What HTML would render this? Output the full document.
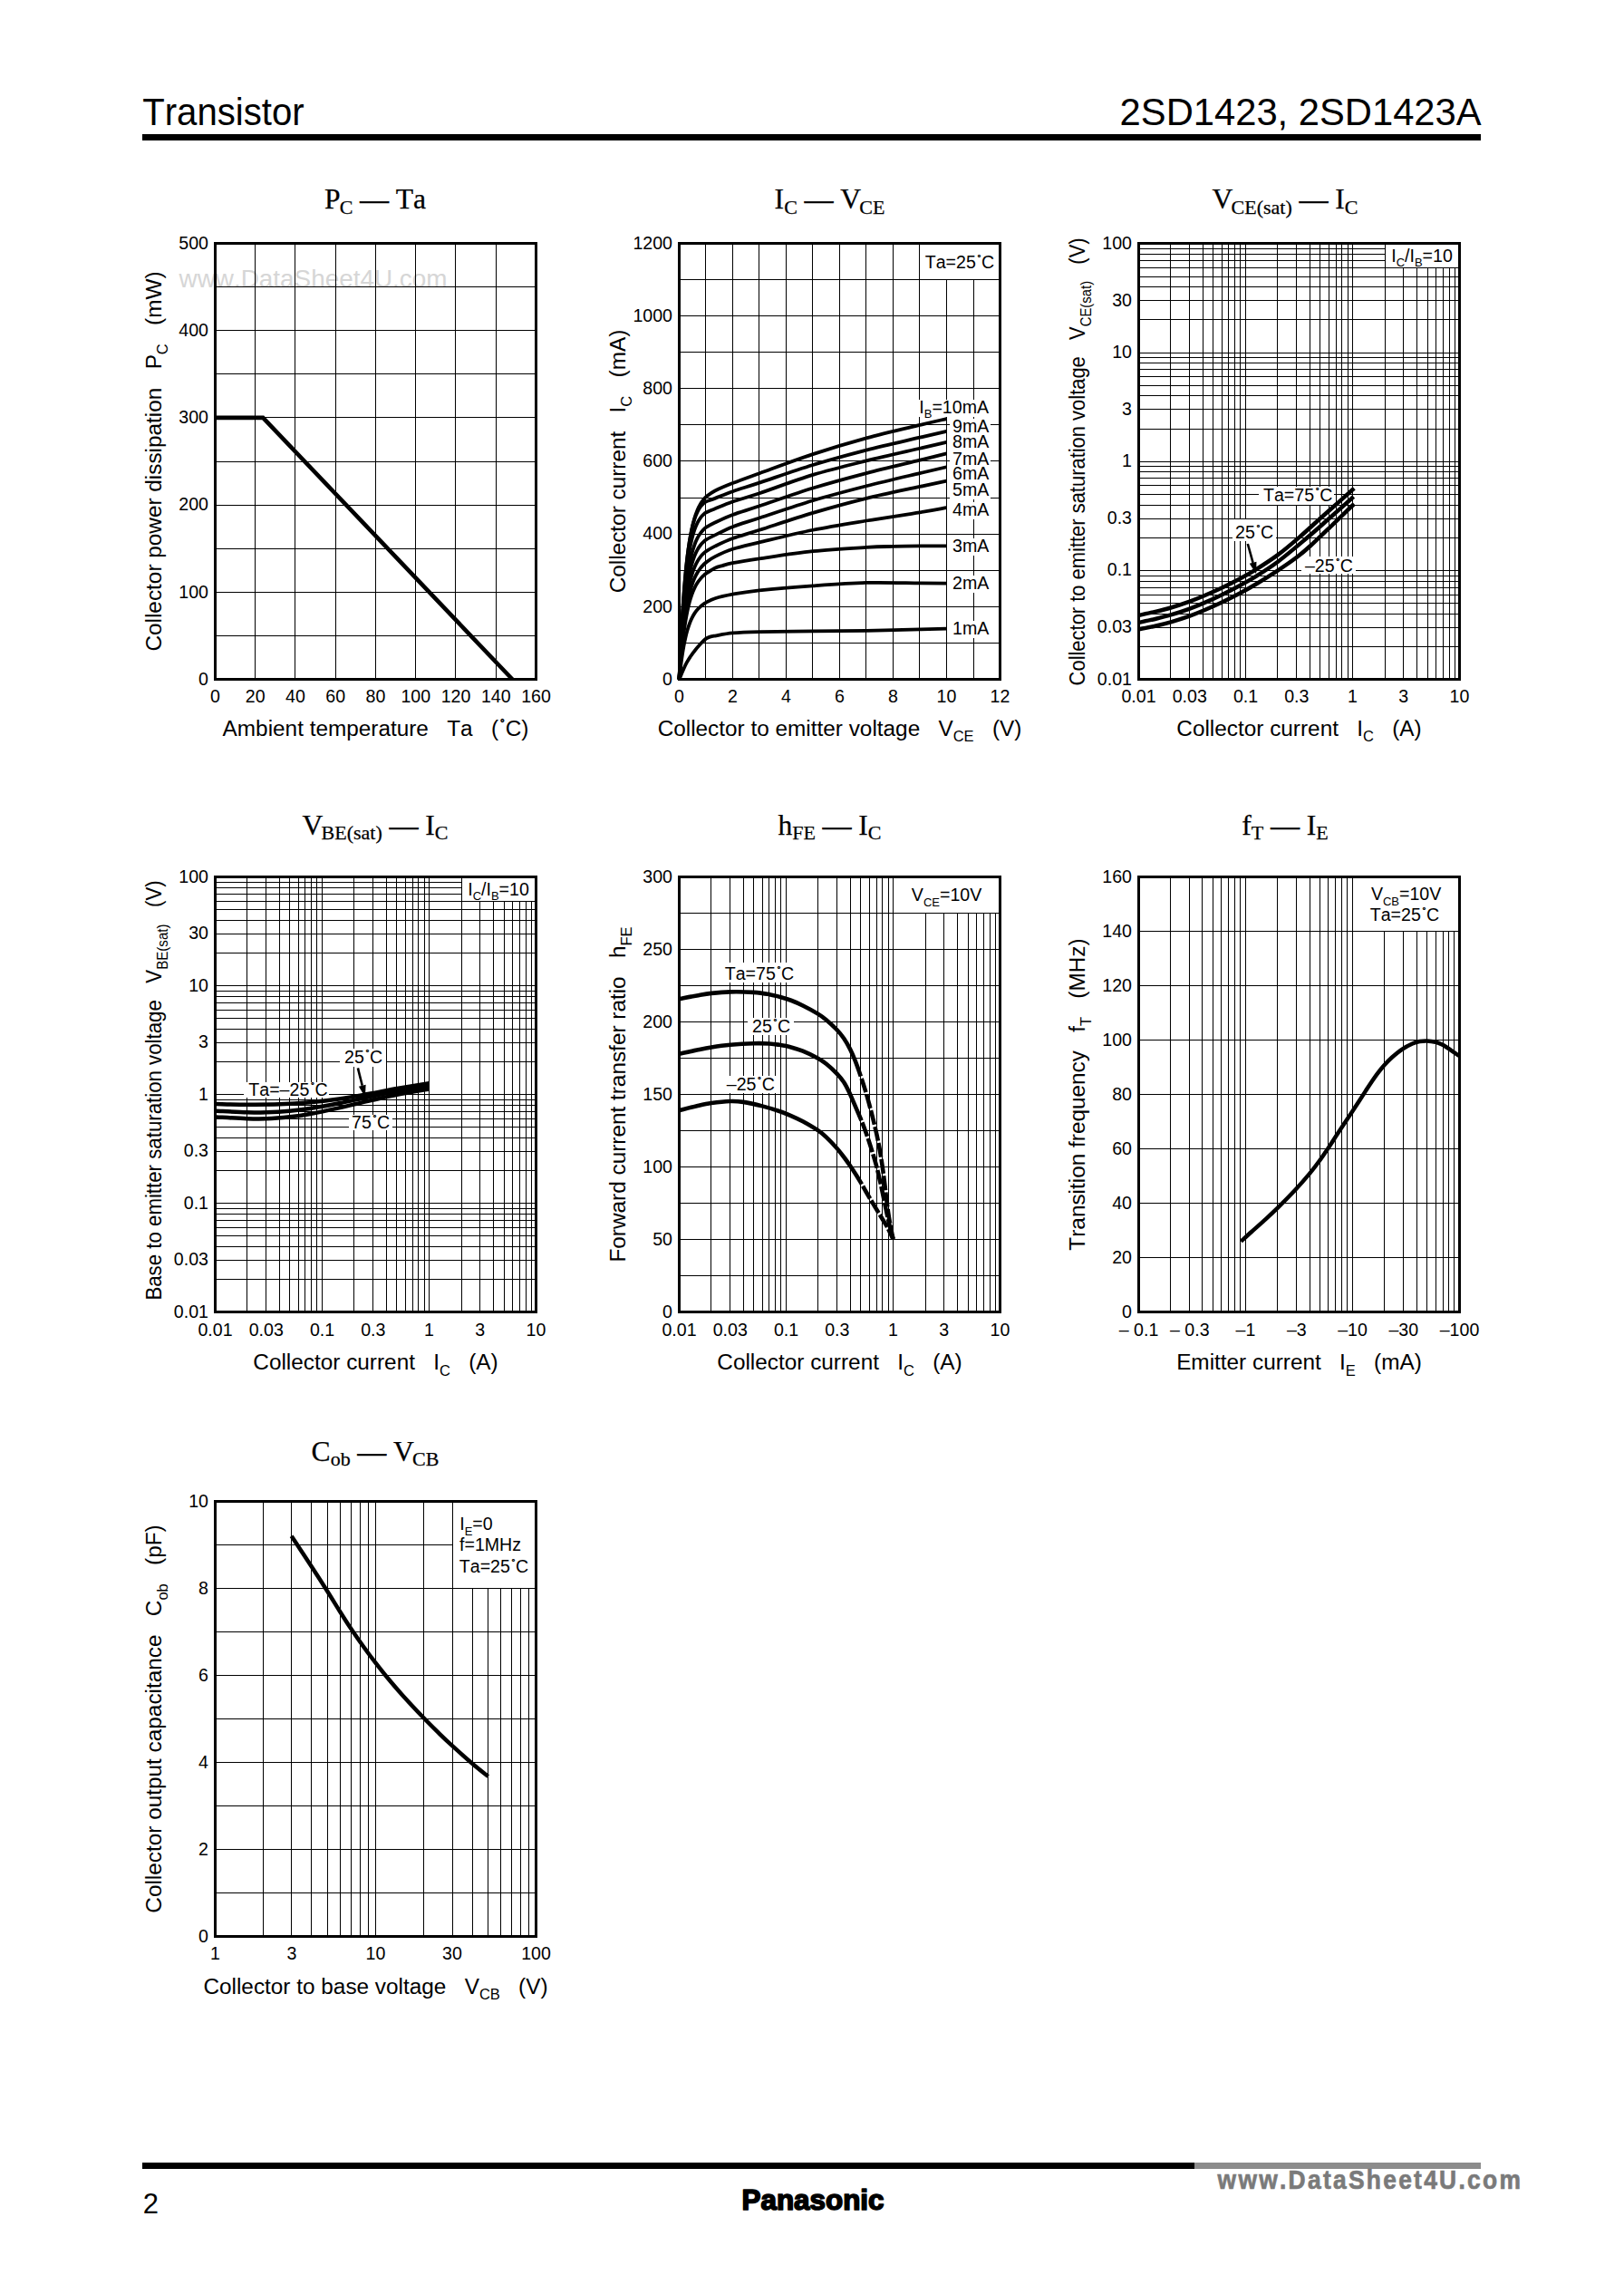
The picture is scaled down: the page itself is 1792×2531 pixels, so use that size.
<!DOCTYPE html>
<html lang="en"><head><meta charset="utf-8"><title>2SD1423, 2SD1423A</title>
<style>html,body{margin:0;padding:0;background:#fff}body{width:1792px;height:2531px;overflow:hidden}svg text{white-space:pre;font-kerning:none}</style>
</head><body>
<svg width="1792" height="2531" viewBox="0 0 1792 2531" style="display:block">
<rect width="1792" height="2531" fill="#fff"/>
<text x="157.2" y="138.4" font-size="41.7" text-anchor="start" font-family='"Liberation Sans", Arial, Helvetica, sans-serif' fill="#000" textLength="178.5" lengthAdjust="spacingAndGlyphs">Transistor</text>
<text x="1634.6" y="138.4" font-size="41.7" text-anchor="end" font-family='"Liberation Sans", Arial, Helvetica, sans-serif' fill="#000" textLength="399" lengthAdjust="spacingAndGlyphs">2SD1423, 2SD1423A</text>
<rect x="157" y="148.2" width="1477" height="6.6" fill="#000" shape-rendering="crispEdges"/>
<rect x="157" y="2385.8" width="1161" height="7.2" fill="#000" shape-rendering="crispEdges"/>
<rect x="1318" y="2385.8" width="316" height="7.2" fill="#8c8c8c" shape-rendering="crispEdges"/>
<text x="157.8" y="2441.8" font-size="31" text-anchor="start" font-family='"Liberation Sans", Arial, Helvetica, sans-serif' fill="#000">2</text>
<text x="897" y="2438.3" font-size="32" text-anchor="middle" font-family='"Liberation Sans", Arial, Helvetica, sans-serif' fill="#000" font-weight="bold" stroke="#000" stroke-width="1.7" stroke-linejoin="round" textLength="157" lengthAdjust="spacingAndGlyphs">Panasonic</text>
<g transform="translate(1343.6 2414.5) scale(0.9 1)">
<text x="0" y="0" font-size="29.3" text-anchor="start" font-family='"Liberation Sans", Arial, Helvetica, sans-serif' fill="#7a7a7a" font-weight="bold" letter-spacing="2.55" stroke="#7a7a7a" stroke-width="0.7">www.DataSheet4U.com</text>
</g>
<text x="197.5" y="316.6" font-size="27.5" text-anchor="start" font-family='"Liberation Sans", Arial, Helvetica, sans-serif' fill="#d6d6d6" textLength="296" lengthAdjust="spacingAndGlyphs">www.DataSheet4U.com</text>
<g shape-rendering="crispEdges">
<line x1="281.5" y1="268.5" x2="281.5" y2="749.5" stroke="#000" stroke-width="1"/>
<line x1="325.5" y1="268.5" x2="325.5" y2="749.5" stroke="#000" stroke-width="1"/>
<line x1="370.5" y1="268.5" x2="370.5" y2="749.5" stroke="#000" stroke-width="1"/>
<line x1="414.5" y1="268.5" x2="414.5" y2="749.5" stroke="#000" stroke-width="1"/>
<line x1="458.5" y1="268.5" x2="458.5" y2="749.5" stroke="#000" stroke-width="1"/>
<line x1="502.5" y1="268.5" x2="502.5" y2="749.5" stroke="#000" stroke-width="1"/>
<line x1="547.5" y1="268.5" x2="547.5" y2="749.5" stroke="#000" stroke-width="1"/>
<line x1="237.5" y1="701.5" x2="591.5" y2="701.5" stroke="#000" stroke-width="1"/>
<line x1="237.5" y1="653.5" x2="591.5" y2="653.5" stroke="#000" stroke-width="1"/>
<line x1="237.5" y1="605.5" x2="591.5" y2="605.5" stroke="#000" stroke-width="1"/>
<line x1="237.5" y1="557.5" x2="591.5" y2="557.5" stroke="#000" stroke-width="1"/>
<line x1="237.5" y1="509.5" x2="591.5" y2="509.5" stroke="#000" stroke-width="1"/>
<line x1="237.5" y1="460.5" x2="591.5" y2="460.5" stroke="#000" stroke-width="1"/>
<line x1="237.5" y1="412.5" x2="591.5" y2="412.5" stroke="#000" stroke-width="1"/>
<line x1="237.5" y1="364.5" x2="591.5" y2="364.5" stroke="#000" stroke-width="1"/>
<line x1="237.5" y1="316.5" x2="591.5" y2="316.5" stroke="#000" stroke-width="1"/>
<rect x="237.5" y="268.5" width="354" height="481" fill="none" stroke="#000" stroke-width="3"/>
</g>
<path d="M237.5 460.9L290.21 460.9L565.39 749.5" fill="none" stroke="#000" stroke-width="4.6" stroke-linejoin="miter"/>
<text x="237.5" y="774.5" font-size="19.6" text-anchor="middle" font-family='"Liberation Sans", Arial, Helvetica, sans-serif' fill="#000">0</text>
<text x="281.75" y="774.5" font-size="19.6" text-anchor="middle" font-family='"Liberation Sans", Arial, Helvetica, sans-serif' fill="#000">20</text>
<text x="326" y="774.5" font-size="19.6" text-anchor="middle" font-family='"Liberation Sans", Arial, Helvetica, sans-serif' fill="#000">40</text>
<text x="370.25" y="774.5" font-size="19.6" text-anchor="middle" font-family='"Liberation Sans", Arial, Helvetica, sans-serif' fill="#000">60</text>
<text x="414.5" y="774.5" font-size="19.6" text-anchor="middle" font-family='"Liberation Sans", Arial, Helvetica, sans-serif' fill="#000">80</text>
<text x="458.75" y="774.5" font-size="19.6" text-anchor="middle" font-family='"Liberation Sans", Arial, Helvetica, sans-serif' fill="#000">100</text>
<text x="503" y="774.5" font-size="19.6" text-anchor="middle" font-family='"Liberation Sans", Arial, Helvetica, sans-serif' fill="#000">120</text>
<text x="547.25" y="774.5" font-size="19.6" text-anchor="middle" font-family='"Liberation Sans", Arial, Helvetica, sans-serif' fill="#000">140</text>
<text x="591.5" y="774.5" font-size="19.6" text-anchor="middle" font-family='"Liberation Sans", Arial, Helvetica, sans-serif' fill="#000">160</text>
<text x="230" y="755.7" font-size="19.6" text-anchor="end" font-family='"Liberation Sans", Arial, Helvetica, sans-serif' fill="#000">0</text>
<text x="230" y="659.5" font-size="19.6" text-anchor="end" font-family='"Liberation Sans", Arial, Helvetica, sans-serif' fill="#000">100</text>
<text x="230" y="563.3" font-size="19.6" text-anchor="end" font-family='"Liberation Sans", Arial, Helvetica, sans-serif' fill="#000">200</text>
<text x="230" y="467.1" font-size="19.6" text-anchor="end" font-family='"Liberation Sans", Arial, Helvetica, sans-serif' fill="#000">300</text>
<text x="230" y="370.9" font-size="19.6" text-anchor="end" font-family='"Liberation Sans", Arial, Helvetica, sans-serif' fill="#000">400</text>
<text x="230" y="274.7" font-size="19.6" text-anchor="end" font-family='"Liberation Sans", Arial, Helvetica, sans-serif' fill="#000">500</text>
<text x="414" y="230" font-size="31.6" text-anchor="middle" font-family='"Liberation Serif", "Times New Roman", Times, serif' fill="#000" stroke="#000" stroke-width="0.25">P<tspan font-size="22" dy="5.8" dx="-0.9">C</tspan><tspan dy="-5.8"> </tspan><tspan stroke="#000" stroke-width="0.7" dy="1.1">—</tspan><tspan dy="-1.1"> Ta</tspan></text>
<text x="414.5" y="811.7" font-size="24.35" text-anchor="middle" font-family='"Liberation Sans", Arial, Helvetica, sans-serif' fill="#000">Ambient temperature   Ta   (<tspan font-size="14.61" stroke="#000" stroke-width="0.54" dy="-6.94" dx="2.31">˚</tspan><tspan dy="6.94" dx="0.49">C)</tspan></text>
<text x="0" y="0" font-size="24.35" text-anchor="middle" font-family='"Liberation Sans", Arial, Helvetica, sans-serif' fill="#000" transform="translate(178.1 509) rotate(-90)">Collector power dissipation   P<tspan font-size="16.5" dy="6.5">C</tspan><tspan dy="-6.5">   (mW)</tspan></text>
<g shape-rendering="crispEdges">
<line x1="778.5" y1="268.5" x2="778.5" y2="749.5" stroke="#000" stroke-width="1"/>
<line x1="808.5" y1="268.5" x2="808.5" y2="749.5" stroke="#000" stroke-width="1"/>
<line x1="837.5" y1="268.5" x2="837.5" y2="749.5" stroke="#000" stroke-width="1"/>
<line x1="867.5" y1="268.5" x2="867.5" y2="749.5" stroke="#000" stroke-width="1"/>
<line x1="896.5" y1="268.5" x2="896.5" y2="749.5" stroke="#000" stroke-width="1"/>
<line x1="926.5" y1="268.5" x2="926.5" y2="749.5" stroke="#000" stroke-width="1"/>
<line x1="955.5" y1="268.5" x2="955.5" y2="749.5" stroke="#000" stroke-width="1"/>
<line x1="985.5" y1="268.5" x2="985.5" y2="749.5" stroke="#000" stroke-width="1"/>
<line x1="1014.5" y1="268.5" x2="1014.5" y2="749.5" stroke="#000" stroke-width="1"/>
<line x1="1044.5" y1="268.5" x2="1044.5" y2="749.5" stroke="#000" stroke-width="1"/>
<line x1="1074.5" y1="268.5" x2="1074.5" y2="749.5" stroke="#000" stroke-width="1"/>
<line x1="749.5" y1="709.5" x2="1103.5" y2="709.5" stroke="#000" stroke-width="1"/>
<line x1="749.5" y1="669.5" x2="1103.5" y2="669.5" stroke="#000" stroke-width="1"/>
<line x1="749.5" y1="629.5" x2="1103.5" y2="629.5" stroke="#000" stroke-width="1"/>
<line x1="749.5" y1="589.5" x2="1103.5" y2="589.5" stroke="#000" stroke-width="1"/>
<line x1="749.5" y1="549.5" x2="1103.5" y2="549.5" stroke="#000" stroke-width="1"/>
<line x1="749.5" y1="508.5" x2="1103.5" y2="508.5" stroke="#000" stroke-width="1"/>
<line x1="749.5" y1="468.5" x2="1103.5" y2="468.5" stroke="#000" stroke-width="1"/>
<line x1="749.5" y1="428.5" x2="1103.5" y2="428.5" stroke="#000" stroke-width="1"/>
<line x1="749.5" y1="388.5" x2="1103.5" y2="388.5" stroke="#000" stroke-width="1"/>
<line x1="749.5" y1="348.5" x2="1103.5" y2="348.5" stroke="#000" stroke-width="1"/>
<line x1="749.5" y1="308.5" x2="1103.5" y2="308.5" stroke="#000" stroke-width="1"/>
<rect x="1015.5" y="270" width="86.5" height="37.8" fill="#fff"/>
<rect x="1012.5" y="440.5" width="80.3" height="19" fill="#fff"/>
<rect x="1048" y="461.5" width="44.5" height="19" fill="#fff"/>
<rect x="1048" y="479" width="44.5" height="19" fill="#fff"/>
<rect x="1048" y="497.5" width="44.5" height="19" fill="#fff"/>
<rect x="1048" y="514.4" width="44.5" height="19" fill="#fff"/>
<rect x="1048" y="532.3" width="44.5" height="19" fill="#fff"/>
<rect x="1048" y="554.4" width="44.5" height="19" fill="#fff"/>
<rect x="1048" y="593.5" width="44.5" height="19" fill="#fff"/>
<rect x="1048" y="635" width="44.5" height="19" fill="#fff"/>
<rect x="1048" y="685.3" width="44.5" height="19" fill="#fff"/>
<rect x="749.5" y="268.5" width="354" height="481" fill="none" stroke="#000" stroke-width="3"/>
</g>
<path d="M749.5 749.5C750.84 746.47 754.81 736.46 757.55 731.34C760.29 726.22 763.34 722.32 765.93 718.8C768.52 715.28 770.92 712.58 773.1 710.22C775.28 707.86 777.28 705.9 779 704.65C780.72 703.39 781.77 703.2 783.42 702.68C785.08 702.16 784.76 702.24 788.94 701.52C793.12 700.81 800.32 699.13 808.5 698.39C816.68 697.66 823.25 697.45 838 697.11C852.75 696.78 877.33 696.61 897 696.39C916.67 696.17 936.33 696.12 956 695.79C975.67 695.45 1000.25 694.75 1015 694.39C1029.75 694.02 1039.58 693.72 1044.5 693.58" fill="none" stroke="#000" stroke-width="3.8" stroke-linecap="butt" stroke-linejoin="round"/>
<path d="M749.5 749.5C749.7 747.72 750.29 742.16 750.68 738.83C751.07 735.5 751.47 732.43 751.86 729.53C752.25 726.62 752.6 724.22 753.04 721.41C753.48 718.61 753.97 715.6 754.51 712.7C755.06 709.8 755.65 706.82 756.28 704.01C756.92 701.2 757.61 698.42 758.35 695.83C759.09 693.25 759.87 690.78 760.71 688.5C761.55 686.23 762.43 684.12 763.37 682.19C764.3 680.25 765.28 678.51 766.32 676.91C767.35 675.31 768.43 673.9 769.56 672.6C770.69 671.29 772.02 670.05 773.1 669.09C774.18 668.12 775.07 667.5 776.05 666.81C777.03 666.11 776.85 666.03 779 664.92C781.15 663.82 784.02 661.73 788.94 660.19C793.86 658.66 800.32 657.19 808.5 655.71C816.68 654.22 823.25 652.87 838 651.3C852.75 649.73 877.33 647.67 897 646.29C916.67 644.9 936.33 643.45 956 642.96C975.67 642.47 1000.25 643.25 1015 643.36C1029.75 643.47 1039.58 643.56 1044.5 643.6" fill="none" stroke="#000" stroke-width="3.8" stroke-linecap="butt" stroke-linejoin="round"/>
<path d="M749.5 749.5C749.7 747.02 750.29 739.26 750.68 734.63C751.07 729.99 751.47 725.72 751.86 721.68C752.25 717.64 752.6 714.29 753.04 710.39C753.48 706.5 753.97 702.32 754.51 698.3C755.06 694.28 755.65 690.15 756.28 686.25C756.92 682.36 757.61 678.51 758.35 674.94C759.09 671.37 759.87 667.96 760.71 664.83C761.55 661.7 762.43 658.8 763.37 656.15C764.3 653.51 765.28 651.13 766.32 648.95C767.35 646.77 768.43 644.86 769.56 643.09C770.69 641.33 772.02 639.67 773.1 638.38C774.18 637.08 775.07 636.26 776.05 635.34C777.03 634.42 776.85 634.29 779 632.86C781.15 631.42 785.89 628.19 788.94 626.72C791.99 625.26 794.03 624.99 797.29 624.08C800.55 623.16 801.72 622.51 808.5 621.23C815.28 619.96 823.25 618.59 838 616.42C852.75 614.25 877.33 610.29 897 608.21C916.67 606.12 941.25 604.81 956 603.92C970.75 603.03 975.67 603.12 985.5 602.88C995.33 602.63 1005.17 602.54 1015 602.47C1024.83 602.41 1039.58 602.47 1044.5 602.47" fill="none" stroke="#000" stroke-width="3.8" stroke-linecap="butt" stroke-linejoin="round"/>
<path d="M749.5 749.5C749.7 746.74 750.29 738.11 750.68 732.96C751.07 727.8 751.47 723.05 751.86 718.56C752.25 714.07 752.6 710.36 753.04 706.03C753.48 701.7 753.97 697.07 754.51 692.61C755.06 688.14 755.65 683.56 756.28 679.25C756.92 674.94 757.61 670.68 758.35 666.73C759.09 662.78 759.87 659.01 760.71 655.56C761.55 652.1 762.43 648.91 763.37 646C764.3 643.09 765.28 640.48 766.32 638.09C767.35 635.71 768.43 633.61 769.56 631.69C770.69 629.77 772.02 627.97 773.1 626.57C774.18 625.17 775.07 624.28 776.05 623.29C777.03 622.3 776.85 622.16 779 620.63C781.15 619.11 784.02 616.61 788.94 614.14C793.86 611.67 800.32 608.43 808.5 605.8C816.68 603.18 823.25 601.89 838 598.39C852.75 594.88 877.33 588.74 897 584.76C916.67 580.78 936.33 577.73 956 574.5C975.67 571.26 1000.25 567.75 1015 565.36C1029.75 562.97 1039.58 561.01 1044.5 560.15" fill="none" stroke="#000" stroke-width="3.8" stroke-linecap="butt" stroke-linejoin="round"/>
<path d="M749.5 749.5C749.7 746.39 750.29 736.66 750.68 730.86C751.07 725.06 751.47 719.72 751.86 714.68C752.25 709.65 752.6 705.48 753.04 700.64C753.48 695.81 753.97 690.63 754.51 685.66C755.06 680.69 755.65 675.6 756.28 670.82C756.92 666.04 757.61 661.34 758.35 657C759.09 652.66 759.87 648.53 760.71 644.77C761.55 641.01 762.43 637.56 763.37 634.44C764.3 631.31 765.28 628.53 766.32 626.01C767.35 623.5 768.43 621.32 769.56 619.34C770.69 617.36 772.02 615.55 773.1 614.15C774.18 612.75 775.07 611.89 776.05 610.94C777.03 609.98 776.85 609.79 779 608.41C781.15 607.02 784.02 605.04 788.94 602.63C793.86 600.23 800.32 596.96 808.5 593.98C816.68 591 823.25 589.43 838 584.76C852.75 580.08 877.33 571.73 897 565.92C916.67 560.11 936.33 554.72 956 549.88C975.67 545.05 1000.25 540.12 1015 536.9C1029.75 533.67 1039.58 531.59 1044.5 530.52" fill="none" stroke="#000" stroke-width="3.8" stroke-linecap="butt" stroke-linejoin="round"/>
<path d="M749.5 749.5C749.7 746.04 750.29 735.19 750.68 728.73C751.07 722.28 751.47 716.35 751.86 710.75C752.25 705.16 752.6 700.54 753.04 695.18C753.48 689.82 753.97 684.09 754.51 678.6C755.06 673.11 755.65 667.49 756.28 662.24C756.92 656.98 757.61 651.82 758.35 647.07C759.09 642.31 759.87 637.82 760.71 633.73C761.55 629.65 762.43 625.92 763.37 622.56C764.3 619.19 765.28 616.23 766.32 613.56C767.35 610.89 768.43 608.61 769.56 606.55C770.69 604.5 772.02 602.65 773.1 601.23C774.18 599.81 775.07 598.97 776.05 598.03C777.03 597.08 776.85 596.86 779 595.58C781.15 594.3 784.02 592.77 788.94 590.37C793.86 587.96 800.32 584.29 808.5 581.15C816.68 578.01 823.25 576.34 838 571.53C852.75 566.72 877.33 558.17 897 552.29C916.67 546.41 936.33 541.29 956 536.26C975.67 531.22 1000.25 525.57 1015 522.07C1029.75 518.57 1039.58 516.39 1044.5 515.25" fill="none" stroke="#000" stroke-width="3.8" stroke-linecap="butt" stroke-linejoin="round"/>
<path d="M749.5 749.5C749.7 745.72 750.29 733.86 750.68 726.81C751.07 719.75 751.47 713.27 751.86 707.17C752.25 701.06 752.6 696.01 753.04 690.16C753.48 684.31 753.97 678.05 754.51 672.06C755.06 666.07 755.65 659.95 756.28 654.22C756.92 648.49 757.61 642.86 758.35 637.69C759.09 632.51 759.87 627.62 760.71 623.17C761.55 618.73 762.43 614.68 763.37 611.03C764.3 607.38 765.28 604.16 766.32 601.27C767.35 598.39 768.43 595.92 769.56 593.7C770.69 591.49 772.02 589.5 773.1 587.98C774.18 586.45 775.07 585.55 776.05 584.55C777.03 583.55 776.85 583.29 779 581.95C781.15 580.61 784.02 578.84 788.94 576.5C793.86 574.16 800.32 570.96 808.5 567.92C816.68 564.89 823.25 563.21 838 558.3C852.75 553.4 877.33 544.54 897 538.5C916.67 532.46 936.33 527.2 956 522.07C975.67 516.94 1000.25 511.32 1015 507.72C1029.75 504.11 1039.58 501.64 1044.5 500.42" fill="none" stroke="#000" stroke-width="3.8" stroke-linecap="butt" stroke-linejoin="round"/>
<path d="M749.5 749.5C749.7 745.23 750.29 731.84 750.68 723.88C751.07 715.92 751.47 708.63 751.86 701.76C752.25 694.89 752.6 689.22 753.04 682.66C753.48 676.1 753.97 669.1 754.51 662.41C755.06 655.72 755.65 648.89 756.28 642.53C756.92 636.16 757.61 629.93 758.35 624.22C759.09 618.52 759.87 613.15 760.71 608.3C761.55 603.45 762.43 599.05 763.37 595.13C764.3 591.2 765.28 587.77 766.32 584.73C767.35 581.68 768.43 579.13 769.56 576.86C770.69 574.59 772.02 572.62 773.1 571.12C774.18 569.62 775.07 568.79 776.05 567.86C777.03 566.92 776.85 566.61 779 565.52C781.15 564.43 784.02 563.31 788.94 561.31C793.86 559.3 800.32 556.33 808.5 553.49C816.68 550.65 823.25 549.2 838 544.27C852.75 539.34 877.33 529.89 897 523.91C916.67 517.93 936.33 513.26 956 508.4C975.67 503.54 1000.25 498.14 1015 494.73C1029.75 491.32 1039.58 489.05 1044.5 487.92" fill="none" stroke="#000" stroke-width="3.8" stroke-linecap="butt" stroke-linejoin="round"/>
<path d="M749.5 749.5C749.7 744.89 750.29 730.44 750.68 721.86C751.07 713.28 751.47 705.42 751.86 698.02C752.25 690.62 752.6 684.52 753.04 677.47C753.48 670.41 753.97 662.88 754.51 655.7C755.06 648.52 755.65 641.19 756.28 634.38C756.92 627.56 757.61 620.9 758.35 614.81C759.09 608.72 759.87 602.99 760.71 597.84C761.55 592.69 762.43 588.04 763.37 583.89C764.3 579.75 765.28 576.15 766.32 572.97C767.35 569.79 768.43 567.14 769.56 564.8C770.69 562.47 772.02 560.48 773.1 558.97C774.18 557.46 775.07 556.65 776.05 555.73C777.03 554.82 776.85 554.47 779 553.49C781.15 552.52 784.02 551.76 788.94 549.88C793.86 548.01 800.32 545.14 808.5 542.27C816.68 539.4 823.25 537.53 838 532.65C852.75 527.77 877.33 519.02 897 513.01C916.67 507 936.33 501.63 956 496.57C975.67 491.52 1000.25 486.13 1015 482.67C1029.75 479.2 1039.58 476.95 1044.5 475.81" fill="none" stroke="#000" stroke-width="3.8" stroke-linecap="butt" stroke-linejoin="round"/>
<path d="M749.5 749.5C749.7 744.98 750.29 730.8 750.68 722.35C751.07 713.91 751.47 706.16 751.86 698.85C752.25 691.54 752.6 685.49 753.04 678.49C753.48 671.48 753.97 663.99 754.51 656.81C755.06 649.64 755.65 642.29 756.28 635.42C756.92 628.55 757.61 621.8 758.35 615.59C759.09 609.38 759.87 603.5 760.71 598.16C761.55 592.82 762.43 587.95 763.37 583.55C764.3 579.16 765.28 575.27 766.32 571.79C767.35 568.3 768.43 565.32 769.56 562.63C770.69 559.94 772.02 557.53 773.1 555.67C774.18 553.81 775.07 552.71 776.05 551.48C777.03 550.25 776.85 549.95 779 548.28C781.15 546.61 784.02 544.01 788.94 541.47C793.86 538.93 800.32 536.26 808.5 533.05C816.68 529.84 823.25 527.55 838 522.23C852.75 516.9 877.33 507.58 897 501.1C916.67 494.62 936.33 488.71 956 483.35C975.67 477.98 1000.25 472.46 1015 468.92C1029.75 465.38 1039.58 463.24 1044.5 462.1" fill="none" stroke="#000" stroke-width="3.8" stroke-linecap="butt" stroke-linejoin="round"/>
<text x="1014.3" y="455.5" font-size="19.6" text-anchor="start" font-family='"Liberation Sans", Arial, Helvetica, sans-serif' fill="#000">I<tspan font-size="13" dy="5.7">B</tspan><tspan dy="-5.7">=10mA</tspan></text>
<text x="1051" y="476.5" font-size="19.6" text-anchor="start" font-family='"Liberation Sans", Arial, Helvetica, sans-serif' fill="#000">9mA</text>
<text x="1051" y="494" font-size="19.6" text-anchor="start" font-family='"Liberation Sans", Arial, Helvetica, sans-serif' fill="#000">8mA</text>
<text x="1051" y="512.5" font-size="19.6" text-anchor="start" font-family='"Liberation Sans", Arial, Helvetica, sans-serif' fill="#000">7mA</text>
<text x="1051" y="529.4" font-size="19.6" text-anchor="start" font-family='"Liberation Sans", Arial, Helvetica, sans-serif' fill="#000">6mA</text>
<text x="1051" y="547.3" font-size="19.6" text-anchor="start" font-family='"Liberation Sans", Arial, Helvetica, sans-serif' fill="#000">5mA</text>
<text x="1051" y="569.4" font-size="19.6" text-anchor="start" font-family='"Liberation Sans", Arial, Helvetica, sans-serif' fill="#000">4mA</text>
<text x="1051" y="608.5" font-size="19.6" text-anchor="start" font-family='"Liberation Sans", Arial, Helvetica, sans-serif' fill="#000">3mA</text>
<text x="1051" y="650" font-size="19.6" text-anchor="start" font-family='"Liberation Sans", Arial, Helvetica, sans-serif' fill="#000">2mA</text>
<text x="1051" y="700.3" font-size="19.6" text-anchor="start" font-family='"Liberation Sans", Arial, Helvetica, sans-serif' fill="#000">1mA</text>
<text x="1020.7" y="295.8" font-size="19.6" text-anchor="start" font-family='"Liberation Sans", Arial, Helvetica, sans-serif' fill="#000">Ta=25<tspan font-size="11.76" stroke="#000" stroke-width="0.43" dy="-5.59" dx="1.86">˚</tspan><tspan dy="5.59" dx="0.39">C</tspan></text>
<text x="749.5" y="774.5" font-size="19.6" text-anchor="middle" font-family='"Liberation Sans", Arial, Helvetica, sans-serif' fill="#000">0</text>
<text x="808.5" y="774.5" font-size="19.6" text-anchor="middle" font-family='"Liberation Sans", Arial, Helvetica, sans-serif' fill="#000">2</text>
<text x="867.5" y="774.5" font-size="19.6" text-anchor="middle" font-family='"Liberation Sans", Arial, Helvetica, sans-serif' fill="#000">4</text>
<text x="926.5" y="774.5" font-size="19.6" text-anchor="middle" font-family='"Liberation Sans", Arial, Helvetica, sans-serif' fill="#000">6</text>
<text x="985.5" y="774.5" font-size="19.6" text-anchor="middle" font-family='"Liberation Sans", Arial, Helvetica, sans-serif' fill="#000">8</text>
<text x="1044.5" y="774.5" font-size="19.6" text-anchor="middle" font-family='"Liberation Sans", Arial, Helvetica, sans-serif' fill="#000">10</text>
<text x="1103.5" y="774.5" font-size="19.6" text-anchor="middle" font-family='"Liberation Sans", Arial, Helvetica, sans-serif' fill="#000">12</text>
<text x="742" y="755.7" font-size="19.6" text-anchor="end" font-family='"Liberation Sans", Arial, Helvetica, sans-serif' fill="#000">0</text>
<text x="742" y="675.53" font-size="19.6" text-anchor="end" font-family='"Liberation Sans", Arial, Helvetica, sans-serif' fill="#000">200</text>
<text x="742" y="595.37" font-size="19.6" text-anchor="end" font-family='"Liberation Sans", Arial, Helvetica, sans-serif' fill="#000">400</text>
<text x="742" y="515.2" font-size="19.6" text-anchor="end" font-family='"Liberation Sans", Arial, Helvetica, sans-serif' fill="#000">600</text>
<text x="742" y="435.03" font-size="19.6" text-anchor="end" font-family='"Liberation Sans", Arial, Helvetica, sans-serif' fill="#000">800</text>
<text x="742" y="354.87" font-size="19.6" text-anchor="end" font-family='"Liberation Sans", Arial, Helvetica, sans-serif' fill="#000">1000</text>
<text x="742" y="274.7" font-size="19.6" text-anchor="end" font-family='"Liberation Sans", Arial, Helvetica, sans-serif' fill="#000">1200</text>
<text x="915.5" y="230" font-size="31.6" text-anchor="middle" font-family='"Liberation Serif", "Times New Roman", Times, serif' fill="#000" stroke="#000" stroke-width="0.25">I<tspan font-size="22" dy="5.8">C</tspan><tspan dy="-5.8"> </tspan><tspan stroke="#000" stroke-width="0.7" dy="1.1">—</tspan><tspan dy="-1.1"> V</tspan><tspan font-size="22" dy="5.8" dx="-1.8">CE</tspan></text>
<text x="926.5" y="811.7" font-size="24.35" text-anchor="middle" font-family='"Liberation Sans", Arial, Helvetica, sans-serif' fill="#000">Collector to emitter voltage   V<tspan font-size="16.5" dy="6.5">CE</tspan><tspan dy="-6.5">   (V)</tspan></text>
<text x="0" y="0" font-size="24.35" text-anchor="middle" font-family='"Liberation Sans", Arial, Helvetica, sans-serif' fill="#000" transform="translate(690.1 509) rotate(-90)">Collector current   I<tspan font-size="16.5" dy="6.5">C</tspan><tspan dy="-6.5">   (mA)</tspan></text>
<g shape-rendering="crispEdges">
<line x1="1291.5" y1="268.5" x2="1291.5" y2="749.5" stroke="#000" stroke-width="1"/>
<line x1="1312.5" y1="268.5" x2="1312.5" y2="749.5" stroke="#000" stroke-width="1"/>
<line x1="1327.5" y1="268.5" x2="1327.5" y2="749.5" stroke="#000" stroke-width="1"/>
<line x1="1338.5" y1="268.5" x2="1338.5" y2="749.5" stroke="#000" stroke-width="1"/>
<line x1="1348.5" y1="268.5" x2="1348.5" y2="749.5" stroke="#000" stroke-width="1"/>
<line x1="1355.5" y1="268.5" x2="1355.5" y2="749.5" stroke="#000" stroke-width="1"/>
<line x1="1362.5" y1="268.5" x2="1362.5" y2="749.5" stroke="#000" stroke-width="1"/>
<line x1="1368.5" y1="268.5" x2="1368.5" y2="749.5" stroke="#000" stroke-width="1"/>
<line x1="1374.5" y1="268.5" x2="1374.5" y2="749.5" stroke="#000" stroke-width="1"/>
<line x1="1409.5" y1="268.5" x2="1409.5" y2="749.5" stroke="#000" stroke-width="1"/>
<line x1="1430.5" y1="268.5" x2="1430.5" y2="749.5" stroke="#000" stroke-width="1"/>
<line x1="1445.5" y1="268.5" x2="1445.5" y2="749.5" stroke="#000" stroke-width="1"/>
<line x1="1456.5" y1="268.5" x2="1456.5" y2="749.5" stroke="#000" stroke-width="1"/>
<line x1="1466.5" y1="268.5" x2="1466.5" y2="749.5" stroke="#000" stroke-width="1"/>
<line x1="1474.5" y1="268.5" x2="1474.5" y2="749.5" stroke="#000" stroke-width="1"/>
<line x1="1480.5" y1="268.5" x2="1480.5" y2="749.5" stroke="#000" stroke-width="1"/>
<line x1="1487.5" y1="268.5" x2="1487.5" y2="749.5" stroke="#000" stroke-width="1"/>
<line x1="1492.5" y1="268.5" x2="1492.5" y2="749.5" stroke="#000" stroke-width="1"/>
<line x1="1528.5" y1="268.5" x2="1528.5" y2="749.5" stroke="#000" stroke-width="1"/>
<line x1="1548.5" y1="268.5" x2="1548.5" y2="749.5" stroke="#000" stroke-width="1"/>
<line x1="1563.5" y1="268.5" x2="1563.5" y2="749.5" stroke="#000" stroke-width="1"/>
<line x1="1575.5" y1="268.5" x2="1575.5" y2="749.5" stroke="#000" stroke-width="1"/>
<line x1="1584.5" y1="268.5" x2="1584.5" y2="749.5" stroke="#000" stroke-width="1"/>
<line x1="1592.5" y1="268.5" x2="1592.5" y2="749.5" stroke="#000" stroke-width="1"/>
<line x1="1599.5" y1="268.5" x2="1599.5" y2="749.5" stroke="#000" stroke-width="1"/>
<line x1="1605.5" y1="268.5" x2="1605.5" y2="749.5" stroke="#000" stroke-width="1"/>
<line x1="1256.5" y1="713.5" x2="1610.5" y2="713.5" stroke="#000" stroke-width="1"/>
<line x1="1256.5" y1="692.5" x2="1610.5" y2="692.5" stroke="#000" stroke-width="1"/>
<line x1="1256.5" y1="677.5" x2="1610.5" y2="677.5" stroke="#000" stroke-width="1"/>
<line x1="1256.5" y1="665.5" x2="1610.5" y2="665.5" stroke="#000" stroke-width="1"/>
<line x1="1256.5" y1="656.5" x2="1610.5" y2="656.5" stroke="#000" stroke-width="1"/>
<line x1="1256.5" y1="648.5" x2="1610.5" y2="648.5" stroke="#000" stroke-width="1"/>
<line x1="1256.5" y1="641.5" x2="1610.5" y2="641.5" stroke="#000" stroke-width="1"/>
<line x1="1256.5" y1="635.5" x2="1610.5" y2="635.5" stroke="#000" stroke-width="1"/>
<line x1="1256.5" y1="629.5" x2="1610.5" y2="629.5" stroke="#000" stroke-width="1"/>
<line x1="1256.5" y1="593.5" x2="1610.5" y2="593.5" stroke="#000" stroke-width="1"/>
<line x1="1256.5" y1="572.5" x2="1610.5" y2="572.5" stroke="#000" stroke-width="1"/>
<line x1="1256.5" y1="557.5" x2="1610.5" y2="557.5" stroke="#000" stroke-width="1"/>
<line x1="1256.5" y1="545.5" x2="1610.5" y2="545.5" stroke="#000" stroke-width="1"/>
<line x1="1256.5" y1="535.5" x2="1610.5" y2="535.5" stroke="#000" stroke-width="1"/>
<line x1="1256.5" y1="527.5" x2="1610.5" y2="527.5" stroke="#000" stroke-width="1"/>
<line x1="1256.5" y1="520.5" x2="1610.5" y2="520.5" stroke="#000" stroke-width="1"/>
<line x1="1256.5" y1="514.5" x2="1610.5" y2="514.5" stroke="#000" stroke-width="1"/>
<line x1="1256.5" y1="509.5" x2="1610.5" y2="509.5" stroke="#000" stroke-width="1"/>
<line x1="1256.5" y1="473.5" x2="1610.5" y2="473.5" stroke="#000" stroke-width="1"/>
<line x1="1256.5" y1="451.5" x2="1610.5" y2="451.5" stroke="#000" stroke-width="1"/>
<line x1="1256.5" y1="436.5" x2="1610.5" y2="436.5" stroke="#000" stroke-width="1"/>
<line x1="1256.5" y1="425.5" x2="1610.5" y2="425.5" stroke="#000" stroke-width="1"/>
<line x1="1256.5" y1="415.5" x2="1610.5" y2="415.5" stroke="#000" stroke-width="1"/>
<line x1="1256.5" y1="407.5" x2="1610.5" y2="407.5" stroke="#000" stroke-width="1"/>
<line x1="1256.5" y1="400.5" x2="1610.5" y2="400.5" stroke="#000" stroke-width="1"/>
<line x1="1256.5" y1="394.5" x2="1610.5" y2="394.5" stroke="#000" stroke-width="1"/>
<line x1="1256.5" y1="389.5" x2="1610.5" y2="389.5" stroke="#000" stroke-width="1"/>
<line x1="1256.5" y1="352.5" x2="1610.5" y2="352.5" stroke="#000" stroke-width="1"/>
<line x1="1256.5" y1="331.5" x2="1610.5" y2="331.5" stroke="#000" stroke-width="1"/>
<line x1="1256.5" y1="316.5" x2="1610.5" y2="316.5" stroke="#000" stroke-width="1"/>
<line x1="1256.5" y1="305.5" x2="1610.5" y2="305.5" stroke="#000" stroke-width="1"/>
<line x1="1256.5" y1="295.5" x2="1610.5" y2="295.5" stroke="#000" stroke-width="1"/>
<line x1="1256.5" y1="287.5" x2="1610.5" y2="287.5" stroke="#000" stroke-width="1"/>
<line x1="1256.5" y1="280.5" x2="1610.5" y2="280.5" stroke="#000" stroke-width="1"/>
<line x1="1256.5" y1="274.5" x2="1610.5" y2="274.5" stroke="#000" stroke-width="1"/>
<rect x="1389" y="536.5" width="82.5" height="20" fill="#fff"/>
<rect x="1360" y="573" width="48" height="23.5" fill="#fff"/>
<rect x="1436.2" y="614" width="59.9" height="18.9" fill="#fff"/>
<rect x="1528.5" y="270" width="80.5" height="24.8" fill="#fff"/>
<rect x="1256.5" y="268.5" width="354" height="481" fill="none" stroke="#000" stroke-width="3"/>
</g>
<path d="M1256.8 678.8C1259.77 678.16 1268.75 676.35 1274.6 674.96C1280.45 673.57 1285.53 672.37 1291.9 670.47C1298.27 668.58 1306.85 665.7 1312.8 663.58C1318.75 661.46 1321.85 660.2 1327.6 657.77C1333.35 655.35 1340.53 652.24 1347.3 649.03C1354.07 645.83 1361.83 641.94 1368.2 638.54C1374.57 635.14 1378.52 633.02 1385.5 628.63C1392.48 624.24 1402.03 618.18 1410.1 612.18C1418.17 606.18 1425.83 599.58 1433.9 592.62C1441.97 585.67 1451.32 576.88 1458.5 570.46C1465.68 564.04 1471.05 559.37 1477 554.09C1482.95 548.81 1491.33 541.35 1494.2 538.8" fill="none" stroke="#000" stroke-width="4.5" stroke-linecap="butt" stroke-linejoin="round"/>
<path d="M1256.8 686.8C1259.77 686.16 1268.75 684.35 1274.6 682.96C1280.45 681.57 1285.53 680.36 1291.9 678.45C1298.27 676.55 1306.85 673.65 1312.8 671.52C1318.75 669.39 1321.85 668.15 1327.6 665.68C1333.35 663.21 1340.53 659.96 1347.3 656.68C1354.07 653.39 1361.83 649.4 1368.2 645.97C1374.57 642.54 1378.52 640.46 1385.5 636.08C1392.48 631.7 1401.02 626.47 1410.1 619.68C1419.18 612.88 1430.9 602.95 1440 595.3C1449.1 587.66 1457.5 580.12 1464.7 573.79C1471.9 567.45 1478.38 561.61 1483.2 557.31C1488.02 553.01 1491.87 549.55 1493.6 548" fill="none" stroke="#000" stroke-width="4.5" stroke-linecap="butt" stroke-linejoin="round"/>
<path d="M1256.8 694.2C1259.77 693.61 1268.75 691.99 1274.6 690.68C1280.45 689.36 1285.53 688.16 1291.9 686.31C1298.27 684.45 1306.85 681.64 1312.8 679.55C1318.75 677.46 1321.85 676.19 1327.6 673.77C1333.35 671.35 1340.53 668.24 1347.3 665.03C1354.07 661.83 1361.83 657.94 1368.2 654.56C1374.57 651.18 1378.52 648.96 1385.5 644.76C1392.48 640.56 1402.52 634.35 1410.1 629.36C1417.68 624.37 1424.98 619.36 1431 614.8C1437.02 610.25 1439.57 608.07 1446.2 602.02C1452.83 595.98 1464.63 584.44 1470.8 578.53C1476.97 572.61 1479.3 570.29 1483.2 566.53C1487.1 562.78 1492.37 557.76 1494.2 556" fill="none" stroke="#000" stroke-width="4.5" stroke-linecap="butt" stroke-linejoin="round"/>
<text x="1394" y="552.7" font-size="19.6" text-anchor="start" font-family='"Liberation Sans", Arial, Helvetica, sans-serif' fill="#000">Ta=75<tspan font-size="11.76" stroke="#000" stroke-width="0.43" dy="-5.59" dx="1.86">˚</tspan><tspan dy="5.59" dx="0.39">C</tspan></text>
<text x="1363" y="593.6" font-size="19.6" text-anchor="start" font-family='"Liberation Sans", Arial, Helvetica, sans-serif' fill="#000">25<tspan font-size="11.76" stroke="#000" stroke-width="0.43" dy="-5.59" dx="1.86">˚</tspan><tspan dy="5.59" dx="0.39">C</tspan></text>
<text x="1439.9" y="630.7" font-size="19.6" text-anchor="start" font-family='"Liberation Sans", Arial, Helvetica, sans-serif' fill="#000">–25<tspan font-size="11.76" stroke="#000" stroke-width="0.43" dy="-5.59" dx="1.86">˚</tspan><tspan dy="5.59" dx="0.39">C</tspan></text>
<line x1="1376.8" y1="600" x2="1382.6" y2="620.78" stroke="#000" stroke-width="2.6"/>
<polygon points="1386.1,633.3 1378.75,621.86 1386.46,619.7" fill="#000"/>
<text x="1535.2" y="288.6" font-size="19.6" text-anchor="start" font-family='"Liberation Sans", Arial, Helvetica, sans-serif' fill="#000">I<tspan font-size="13" dy="5.7">C</tspan><tspan dy="-5.7">/I</tspan><tspan font-size="13" dy="5.7">B</tspan><tspan dy="-5.7">=10</tspan></text>
<text x="1256.5" y="774.5" font-size="19.6" text-anchor="middle" font-family='"Liberation Sans", Arial, Helvetica, sans-serif' fill="#000">0.01</text>
<text x="1312.8" y="774.5" font-size="19.6" text-anchor="middle" font-family='"Liberation Sans", Arial, Helvetica, sans-serif' fill="#000">0.03</text>
<text x="1374.5" y="774.5" font-size="19.6" text-anchor="middle" font-family='"Liberation Sans", Arial, Helvetica, sans-serif' fill="#000">0.1</text>
<text x="1430.8" y="774.5" font-size="19.6" text-anchor="middle" font-family='"Liberation Sans", Arial, Helvetica, sans-serif' fill="#000">0.3</text>
<text x="1492.5" y="774.5" font-size="19.6" text-anchor="middle" font-family='"Liberation Sans", Arial, Helvetica, sans-serif' fill="#000">1</text>
<text x="1548.8" y="774.5" font-size="19.6" text-anchor="middle" font-family='"Liberation Sans", Arial, Helvetica, sans-serif' fill="#000">3</text>
<text x="1610.5" y="774.5" font-size="19.6" text-anchor="middle" font-family='"Liberation Sans", Arial, Helvetica, sans-serif' fill="#000">10</text>
<text x="1249" y="755.7" font-size="19.6" text-anchor="end" font-family='"Liberation Sans", Arial, Helvetica, sans-serif' fill="#000">0.01</text>
<text x="1249" y="698.33" font-size="19.6" text-anchor="end" font-family='"Liberation Sans", Arial, Helvetica, sans-serif' fill="#000">0.03</text>
<text x="1249" y="635.45" font-size="19.6" text-anchor="end" font-family='"Liberation Sans", Arial, Helvetica, sans-serif' fill="#000">0.1</text>
<text x="1249" y="578.08" font-size="19.6" text-anchor="end" font-family='"Liberation Sans", Arial, Helvetica, sans-serif' fill="#000">0.3</text>
<text x="1249" y="515.2" font-size="19.6" text-anchor="end" font-family='"Liberation Sans", Arial, Helvetica, sans-serif' fill="#000">1</text>
<text x="1249" y="457.83" font-size="19.6" text-anchor="end" font-family='"Liberation Sans", Arial, Helvetica, sans-serif' fill="#000">3</text>
<text x="1249" y="394.95" font-size="19.6" text-anchor="end" font-family='"Liberation Sans", Arial, Helvetica, sans-serif' fill="#000">10</text>
<text x="1249" y="337.58" font-size="19.6" text-anchor="end" font-family='"Liberation Sans", Arial, Helvetica, sans-serif' fill="#000">30</text>
<text x="1249" y="274.7" font-size="19.6" text-anchor="end" font-family='"Liberation Sans", Arial, Helvetica, sans-serif' fill="#000">100</text>
<text x="1418" y="230" font-size="31.6" text-anchor="middle" font-family='"Liberation Serif", "Times New Roman", Times, serif' fill="#000" stroke="#000" stroke-width="0.25">V<tspan font-size="22" dy="5.8" dx="-1.8">CE(sat)</tspan><tspan dy="-5.8"> </tspan><tspan stroke="#000" stroke-width="0.7" dy="1.1">—</tspan><tspan dy="-1.1"> I</tspan><tspan font-size="22" dy="5.8">C</tspan></text>
<text x="1433.5" y="811.7" font-size="24.35" text-anchor="middle" font-family='"Liberation Sans", Arial, Helvetica, sans-serif' fill="#000">Collector current   I<tspan font-size="16.5" dy="6.5">C</tspan><tspan dy="-6.5">   (A)</tspan></text>
<text x="0" y="0" font-size="24.35" text-anchor="start" font-family='"Liberation Sans", Arial, Helvetica, sans-serif' fill="#000" transform="translate(1197.1 756.4) rotate(-90)" textLength="494" lengthAdjust="spacingAndGlyphs">Collector to emitter saturation voltage   V<tspan font-size="16.5" dy="6.5">CE(sat)</tspan><tspan dy="-6.5">   (V)</tspan></text>
<g shape-rendering="crispEdges">
<line x1="272.5" y1="967.5" x2="272.5" y2="1447.5" stroke="#000" stroke-width="1"/>
<line x1="293.5" y1="967.5" x2="293.5" y2="1447.5" stroke="#000" stroke-width="1"/>
<line x1="308.5" y1="967.5" x2="308.5" y2="1447.5" stroke="#000" stroke-width="1"/>
<line x1="319.5" y1="967.5" x2="319.5" y2="1447.5" stroke="#000" stroke-width="1"/>
<line x1="329.5" y1="967.5" x2="329.5" y2="1447.5" stroke="#000" stroke-width="1"/>
<line x1="336.5" y1="967.5" x2="336.5" y2="1447.5" stroke="#000" stroke-width="1"/>
<line x1="343.5" y1="967.5" x2="343.5" y2="1447.5" stroke="#000" stroke-width="1"/>
<line x1="349.5" y1="967.5" x2="349.5" y2="1447.5" stroke="#000" stroke-width="1"/>
<line x1="355.5" y1="967.5" x2="355.5" y2="1447.5" stroke="#000" stroke-width="1"/>
<line x1="390.5" y1="967.5" x2="390.5" y2="1447.5" stroke="#000" stroke-width="1"/>
<line x1="411.5" y1="967.5" x2="411.5" y2="1447.5" stroke="#000" stroke-width="1"/>
<line x1="426.5" y1="967.5" x2="426.5" y2="1447.5" stroke="#000" stroke-width="1"/>
<line x1="437.5" y1="967.5" x2="437.5" y2="1447.5" stroke="#000" stroke-width="1"/>
<line x1="447.5" y1="967.5" x2="447.5" y2="1447.5" stroke="#000" stroke-width="1"/>
<line x1="455.5" y1="967.5" x2="455.5" y2="1447.5" stroke="#000" stroke-width="1"/>
<line x1="461.5" y1="967.5" x2="461.5" y2="1447.5" stroke="#000" stroke-width="1"/>
<line x1="468.5" y1="967.5" x2="468.5" y2="1447.5" stroke="#000" stroke-width="1"/>
<line x1="473.5" y1="967.5" x2="473.5" y2="1447.5" stroke="#000" stroke-width="1"/>
<line x1="509.5" y1="967.5" x2="509.5" y2="1447.5" stroke="#000" stroke-width="1"/>
<line x1="529.5" y1="967.5" x2="529.5" y2="1447.5" stroke="#000" stroke-width="1"/>
<line x1="544.5" y1="967.5" x2="544.5" y2="1447.5" stroke="#000" stroke-width="1"/>
<line x1="556.5" y1="967.5" x2="556.5" y2="1447.5" stroke="#000" stroke-width="1"/>
<line x1="565.5" y1="967.5" x2="565.5" y2="1447.5" stroke="#000" stroke-width="1"/>
<line x1="573.5" y1="967.5" x2="573.5" y2="1447.5" stroke="#000" stroke-width="1"/>
<line x1="580.5" y1="967.5" x2="580.5" y2="1447.5" stroke="#000" stroke-width="1"/>
<line x1="586.5" y1="967.5" x2="586.5" y2="1447.5" stroke="#000" stroke-width="1"/>
<line x1="237.5" y1="1411.5" x2="591.5" y2="1411.5" stroke="#000" stroke-width="1"/>
<line x1="237.5" y1="1390.5" x2="591.5" y2="1390.5" stroke="#000" stroke-width="1"/>
<line x1="237.5" y1="1375.5" x2="591.5" y2="1375.5" stroke="#000" stroke-width="1"/>
<line x1="237.5" y1="1363.5" x2="591.5" y2="1363.5" stroke="#000" stroke-width="1"/>
<line x1="237.5" y1="1354.5" x2="591.5" y2="1354.5" stroke="#000" stroke-width="1"/>
<line x1="237.5" y1="1346.5" x2="591.5" y2="1346.5" stroke="#000" stroke-width="1"/>
<line x1="237.5" y1="1339.5" x2="591.5" y2="1339.5" stroke="#000" stroke-width="1"/>
<line x1="237.5" y1="1333.5" x2="591.5" y2="1333.5" stroke="#000" stroke-width="1"/>
<line x1="237.5" y1="1327.5" x2="591.5" y2="1327.5" stroke="#000" stroke-width="1"/>
<line x1="237.5" y1="1291.5" x2="591.5" y2="1291.5" stroke="#000" stroke-width="1"/>
<line x1="237.5" y1="1270.5" x2="591.5" y2="1270.5" stroke="#000" stroke-width="1"/>
<line x1="237.5" y1="1255.5" x2="591.5" y2="1255.5" stroke="#000" stroke-width="1"/>
<line x1="237.5" y1="1243.5" x2="591.5" y2="1243.5" stroke="#000" stroke-width="1"/>
<line x1="237.5" y1="1234.5" x2="591.5" y2="1234.5" stroke="#000" stroke-width="1"/>
<line x1="237.5" y1="1226.5" x2="591.5" y2="1226.5" stroke="#000" stroke-width="1"/>
<line x1="237.5" y1="1219.5" x2="591.5" y2="1219.5" stroke="#000" stroke-width="1"/>
<line x1="237.5" y1="1213.5" x2="591.5" y2="1213.5" stroke="#000" stroke-width="1"/>
<line x1="237.5" y1="1207.5" x2="591.5" y2="1207.5" stroke="#000" stroke-width="1"/>
<line x1="237.5" y1="1171.5" x2="591.5" y2="1171.5" stroke="#000" stroke-width="1"/>
<line x1="237.5" y1="1150.5" x2="591.5" y2="1150.5" stroke="#000" stroke-width="1"/>
<line x1="237.5" y1="1135.5" x2="591.5" y2="1135.5" stroke="#000" stroke-width="1"/>
<line x1="237.5" y1="1123.5" x2="591.5" y2="1123.5" stroke="#000" stroke-width="1"/>
<line x1="237.5" y1="1114.5" x2="591.5" y2="1114.5" stroke="#000" stroke-width="1"/>
<line x1="237.5" y1="1106.5" x2="591.5" y2="1106.5" stroke="#000" stroke-width="1"/>
<line x1="237.5" y1="1099.5" x2="591.5" y2="1099.5" stroke="#000" stroke-width="1"/>
<line x1="237.5" y1="1093.5" x2="591.5" y2="1093.5" stroke="#000" stroke-width="1"/>
<line x1="237.5" y1="1087.5" x2="591.5" y2="1087.5" stroke="#000" stroke-width="1"/>
<line x1="237.5" y1="1051.5" x2="591.5" y2="1051.5" stroke="#000" stroke-width="1"/>
<line x1="237.5" y1="1030.5" x2="591.5" y2="1030.5" stroke="#000" stroke-width="1"/>
<line x1="237.5" y1="1015.5" x2="591.5" y2="1015.5" stroke="#000" stroke-width="1"/>
<line x1="237.5" y1="1003.5" x2="591.5" y2="1003.5" stroke="#000" stroke-width="1"/>
<line x1="237.5" y1="994.5" x2="591.5" y2="994.5" stroke="#000" stroke-width="1"/>
<line x1="237.5" y1="986.5" x2="591.5" y2="986.5" stroke="#000" stroke-width="1"/>
<line x1="237.5" y1="979.5" x2="591.5" y2="979.5" stroke="#000" stroke-width="1"/>
<line x1="237.5" y1="973.5" x2="591.5" y2="973.5" stroke="#000" stroke-width="1"/>
<rect x="269.2" y="1193.6" width="93.7" height="17.6" fill="#fff"/>
<rect x="374.9" y="1156.8" width="51.1" height="20" fill="#fff"/>
<rect x="384.5" y="1229.7" width="48.8" height="16.8" fill="#fff"/>
<rect x="509.5" y="969" width="80.5" height="24.8" fill="#fff"/>
<rect x="237.5" y="967.5" width="354" height="480" fill="none" stroke="#000" stroke-width="3"/>
</g>
<path d="M238.8 1218C244.4 1218.12 260.78 1218.64 272.4 1218.69C284.02 1218.75 296.88 1218.76 308.5 1218.34C320.12 1217.93 331.17 1217.18 342.1 1216.19C353.03 1215.2 363.43 1213.95 374.1 1212.42C384.77 1210.89 395.43 1208.93 406.1 1207.04C416.77 1205.15 426.88 1203.05 438.1 1201.08C449.32 1199.1 467.52 1196.18 473.4 1195.2" fill="none" stroke="#000" stroke-width="4.5" stroke-linecap="butt" stroke-linejoin="round"/>
<path d="M238.8 1225.7C244.4 1225.94 263.2 1226.88 272.4 1227.15C281.6 1227.42 286.12 1227.55 294 1227.32C301.88 1227.1 311.68 1226.52 319.7 1225.8C327.72 1225.08 333.03 1224.44 342.1 1223.02C351.17 1221.6 363.43 1219.39 374.1 1217.3C384.77 1215.21 395.43 1212.69 406.1 1210.48C416.77 1208.27 426.88 1206.05 438.1 1204.04C449.32 1202.02 467.52 1199.34 473.4 1198.4" fill="none" stroke="#000" stroke-width="4.5" stroke-linecap="butt" stroke-linejoin="round"/>
<path d="M238.8 1232.5C244.4 1232.8 263.2 1233.97 272.4 1234.28C281.6 1234.6 286.12 1234.71 294 1234.37C301.88 1234.04 311.68 1233.17 319.7 1232.26C327.72 1231.36 333.03 1230.59 342.1 1228.93C351.17 1227.28 363.43 1224.68 374.1 1222.34C384.77 1220 395.43 1217.31 406.1 1214.88C416.77 1212.45 426.88 1209.96 438.1 1207.75C449.32 1205.54 467.52 1202.63 473.4 1201.6" fill="none" stroke="#000" stroke-width="4.5" stroke-linecap="butt" stroke-linejoin="round"/>
<text x="274.3" y="1208.8" font-size="19.6" text-anchor="start" font-family='"Liberation Sans", Arial, Helvetica, sans-serif' fill="#000">Ta=–25<tspan font-size="11.76" stroke="#000" stroke-width="0.43" dy="-5.59" dx="1.86">˚</tspan><tspan dy="5.59" dx="0.39">C</tspan></text>
<text x="380" y="1172.8" font-size="19.6" text-anchor="start" font-family='"Liberation Sans", Arial, Helvetica, sans-serif' fill="#000">25<tspan font-size="11.76" stroke="#000" stroke-width="0.43" dy="-5.59" dx="1.86">˚</tspan><tspan dy="5.59" dx="0.39">C</tspan></text>
<text x="388" y="1244.9" font-size="19.6" text-anchor="start" font-family='"Liberation Sans", Arial, Helvetica, sans-serif' fill="#000">75<tspan font-size="11.76" stroke="#000" stroke-width="0.43" dy="-5.59" dx="1.86">˚</tspan><tspan dy="5.59" dx="0.39">C</tspan></text>
<line x1="394.9" y1="1178.4" x2="399.75" y2="1197.79" stroke="#000" stroke-width="2.6"/>
<polygon points="402.9,1210.4 395.87,1198.76 403.63,1196.82" fill="#000"/>
<text x="516.2" y="987.6" font-size="19.6" text-anchor="start" font-family='"Liberation Sans", Arial, Helvetica, sans-serif' fill="#000">I<tspan font-size="13" dy="5.7">C</tspan><tspan dy="-5.7">/I</tspan><tspan font-size="13" dy="5.7">B</tspan><tspan dy="-5.7">=10</tspan></text>
<text x="237.5" y="1473.8" font-size="19.6" text-anchor="middle" font-family='"Liberation Sans", Arial, Helvetica, sans-serif' fill="#000">0.01</text>
<text x="293.8" y="1473.8" font-size="19.6" text-anchor="middle" font-family='"Liberation Sans", Arial, Helvetica, sans-serif' fill="#000">0.03</text>
<text x="355.5" y="1473.8" font-size="19.6" text-anchor="middle" font-family='"Liberation Sans", Arial, Helvetica, sans-serif' fill="#000">0.1</text>
<text x="411.8" y="1473.8" font-size="19.6" text-anchor="middle" font-family='"Liberation Sans", Arial, Helvetica, sans-serif' fill="#000">0.3</text>
<text x="473.5" y="1473.8" font-size="19.6" text-anchor="middle" font-family='"Liberation Sans", Arial, Helvetica, sans-serif' fill="#000">1</text>
<text x="529.8" y="1473.8" font-size="19.6" text-anchor="middle" font-family='"Liberation Sans", Arial, Helvetica, sans-serif' fill="#000">3</text>
<text x="591.5" y="1473.8" font-size="19.6" text-anchor="middle" font-family='"Liberation Sans", Arial, Helvetica, sans-serif' fill="#000">10</text>
<text x="230" y="1453.7" font-size="19.6" text-anchor="end" font-family='"Liberation Sans", Arial, Helvetica, sans-serif' fill="#000">0.01</text>
<text x="230" y="1396.45" font-size="19.6" text-anchor="end" font-family='"Liberation Sans", Arial, Helvetica, sans-serif' fill="#000">0.03</text>
<text x="230" y="1333.7" font-size="19.6" text-anchor="end" font-family='"Liberation Sans", Arial, Helvetica, sans-serif' fill="#000">0.1</text>
<text x="230" y="1276.45" font-size="19.6" text-anchor="end" font-family='"Liberation Sans", Arial, Helvetica, sans-serif' fill="#000">0.3</text>
<text x="230" y="1213.7" font-size="19.6" text-anchor="end" font-family='"Liberation Sans", Arial, Helvetica, sans-serif' fill="#000">1</text>
<text x="230" y="1156.45" font-size="19.6" text-anchor="end" font-family='"Liberation Sans", Arial, Helvetica, sans-serif' fill="#000">3</text>
<text x="230" y="1093.7" font-size="19.6" text-anchor="end" font-family='"Liberation Sans", Arial, Helvetica, sans-serif' fill="#000">10</text>
<text x="230" y="1036.45" font-size="19.6" text-anchor="end" font-family='"Liberation Sans", Arial, Helvetica, sans-serif' fill="#000">30</text>
<text x="230" y="973.7" font-size="19.6" text-anchor="end" font-family='"Liberation Sans", Arial, Helvetica, sans-serif' fill="#000">100</text>
<text x="414" y="920.5" font-size="31.6" text-anchor="middle" font-family='"Liberation Serif", "Times New Roman", Times, serif' fill="#000" stroke="#000" stroke-width="0.25">V<tspan font-size="22" dy="5.8" dx="-1.8">BE(sat)</tspan><tspan dy="-5.8"> </tspan><tspan stroke="#000" stroke-width="0.7" dy="1.1">—</tspan><tspan dy="-1.1"> I</tspan><tspan font-size="22" dy="5.8">C</tspan></text>
<text x="414.5" y="1511" font-size="24.35" text-anchor="middle" font-family='"Liberation Sans", Arial, Helvetica, sans-serif' fill="#000">Collector current   I<tspan font-size="16.5" dy="6.5">C</tspan><tspan dy="-6.5">   (A)</tspan></text>
<text x="0" y="0" font-size="24.35" text-anchor="start" font-family='"Liberation Sans", Arial, Helvetica, sans-serif' fill="#000" transform="translate(178.1 1434.6) rotate(-90)" textLength="463.3" lengthAdjust="spacingAndGlyphs">Base to emitter saturation voltage   V<tspan font-size="16.5" dy="6.5">BE(sat)</tspan><tspan dy="-6.5">   (V)</tspan></text>
<g shape-rendering="crispEdges">
<line x1="784.5" y1="967.5" x2="784.5" y2="1447.5" stroke="#000" stroke-width="1"/>
<line x1="805.5" y1="967.5" x2="805.5" y2="1447.5" stroke="#000" stroke-width="1"/>
<line x1="820.5" y1="967.5" x2="820.5" y2="1447.5" stroke="#000" stroke-width="1"/>
<line x1="831.5" y1="967.5" x2="831.5" y2="1447.5" stroke="#000" stroke-width="1"/>
<line x1="841.5" y1="967.5" x2="841.5" y2="1447.5" stroke="#000" stroke-width="1"/>
<line x1="848.5" y1="967.5" x2="848.5" y2="1447.5" stroke="#000" stroke-width="1"/>
<line x1="855.5" y1="967.5" x2="855.5" y2="1447.5" stroke="#000" stroke-width="1"/>
<line x1="861.5" y1="967.5" x2="861.5" y2="1447.5" stroke="#000" stroke-width="1"/>
<line x1="867.5" y1="967.5" x2="867.5" y2="1447.5" stroke="#000" stroke-width="1"/>
<line x1="902.5" y1="967.5" x2="902.5" y2="1447.5" stroke="#000" stroke-width="1"/>
<line x1="923.5" y1="967.5" x2="923.5" y2="1447.5" stroke="#000" stroke-width="1"/>
<line x1="938.5" y1="967.5" x2="938.5" y2="1447.5" stroke="#000" stroke-width="1"/>
<line x1="949.5" y1="967.5" x2="949.5" y2="1447.5" stroke="#000" stroke-width="1"/>
<line x1="959.5" y1="967.5" x2="959.5" y2="1447.5" stroke="#000" stroke-width="1"/>
<line x1="967.5" y1="967.5" x2="967.5" y2="1447.5" stroke="#000" stroke-width="1"/>
<line x1="973.5" y1="967.5" x2="973.5" y2="1447.5" stroke="#000" stroke-width="1"/>
<line x1="980.5" y1="967.5" x2="980.5" y2="1447.5" stroke="#000" stroke-width="1"/>
<line x1="985.5" y1="967.5" x2="985.5" y2="1447.5" stroke="#000" stroke-width="1"/>
<line x1="1021.5" y1="967.5" x2="1021.5" y2="1447.5" stroke="#000" stroke-width="1"/>
<line x1="1041.5" y1="967.5" x2="1041.5" y2="1447.5" stroke="#000" stroke-width="1"/>
<line x1="1056.5" y1="967.5" x2="1056.5" y2="1447.5" stroke="#000" stroke-width="1"/>
<line x1="1068.5" y1="967.5" x2="1068.5" y2="1447.5" stroke="#000" stroke-width="1"/>
<line x1="1077.5" y1="967.5" x2="1077.5" y2="1447.5" stroke="#000" stroke-width="1"/>
<line x1="1085.5" y1="967.5" x2="1085.5" y2="1447.5" stroke="#000" stroke-width="1"/>
<line x1="1092.5" y1="967.5" x2="1092.5" y2="1447.5" stroke="#000" stroke-width="1"/>
<line x1="1098.5" y1="967.5" x2="1098.5" y2="1447.5" stroke="#000" stroke-width="1"/>
<line x1="749.5" y1="1407.5" x2="1103.5" y2="1407.5" stroke="#000" stroke-width="1"/>
<line x1="749.5" y1="1367.5" x2="1103.5" y2="1367.5" stroke="#000" stroke-width="1"/>
<line x1="749.5" y1="1327.5" x2="1103.5" y2="1327.5" stroke="#000" stroke-width="1"/>
<line x1="749.5" y1="1287.5" x2="1103.5" y2="1287.5" stroke="#000" stroke-width="1"/>
<line x1="749.5" y1="1247.5" x2="1103.5" y2="1247.5" stroke="#000" stroke-width="1"/>
<line x1="749.5" y1="1207.5" x2="1103.5" y2="1207.5" stroke="#000" stroke-width="1"/>
<line x1="749.5" y1="1167.5" x2="1103.5" y2="1167.5" stroke="#000" stroke-width="1"/>
<line x1="749.5" y1="1127.5" x2="1103.5" y2="1127.5" stroke="#000" stroke-width="1"/>
<line x1="749.5" y1="1087.5" x2="1103.5" y2="1087.5" stroke="#000" stroke-width="1"/>
<line x1="749.5" y1="1047.5" x2="1103.5" y2="1047.5" stroke="#000" stroke-width="1"/>
<line x1="749.5" y1="1007.5" x2="1103.5" y2="1007.5" stroke="#000" stroke-width="1"/>
<rect x="799.4" y="1062" width="76.9" height="22" fill="#fff"/>
<rect x="825" y="1123.2" width="50.5" height="18.5" fill="#fff"/>
<rect x="801" y="1186.5" width="56" height="19.2" fill="#fff"/>
<rect x="986.5" y="969" width="115.5" height="38" fill="#fff"/>
<rect x="749.5" y="967.5" width="354" height="480" fill="none" stroke="#000" stroke-width="3"/>
</g>
<path d="M750.6 1101.9C753.67 1101.32 763.27 1099.43 769 1098.43C774.73 1097.43 778.87 1096.56 785 1095.88C791.13 1095.2 798.05 1094.51 805.8 1094.34C813.55 1094.18 824.28 1094.42 831.5 1094.89C838.72 1095.36 844.35 1096.34 849.1 1097.15C853.85 1097.96 856.03 1098.63 860 1099.73C863.97 1100.83 868.58 1102.15 872.9 1103.77C877.22 1105.4 881.02 1107.06 885.9 1109.49C890.78 1111.93 897.9 1115.75 902.2 1118.38C906.5 1121 908.19 1122.29 911.7 1125.22C915.21 1128.16 920.04 1132.62 923.27 1136C926.49 1139.38 928.58 1141.9 931.05 1145.5C933.52 1149.1 936.02 1153.57 938.08 1157.6C940.14 1161.63 941.46 1164.82 943.39 1169.7C945.31 1174.58 947.74 1181.45 949.62 1186.9C951.49 1192.35 953.07 1197.23 954.64 1202.4C956.21 1207.57 957.62 1212.63 959.05 1217.9C960.48 1223.17 961.94 1228.82 963.24 1234C964.53 1239.18 965.74 1244.25 966.81 1249C967.87 1253.75 968.75 1257.98 969.62 1262.5C970.49 1267.02 971.22 1271.17 972.02 1276.1C972.82 1281.03 973.68 1286.77 974.42 1292.1C975.16 1297.43 975.81 1302.77 976.46 1308.1C977.11 1313.43 977.67 1318.77 978.34 1324.1C979.01 1329.43 979.71 1335.12 980.46 1340.1C981.22 1345.08 982.04 1349.52 982.87 1354C983.71 1358.48 985.06 1364.83 985.5 1367" fill="none" stroke="#000" stroke-width="4.6" stroke-linecap="butt" stroke-linejoin="round" stroke-dasharray="242.76 2.4 16 2.4 16 2.4 16 2.4 16 2.4 16 2.4 16 2.4 16 2.4 16 2.4 16 2.4 16 2.4 16"/>
<path d="M750.6 1162.5C753.67 1161.84 763.27 1159.72 769 1158.56C774.73 1157.4 778.87 1156.49 785 1155.54C791.13 1154.58 798.05 1153.56 805.8 1152.83C813.55 1152.11 824.3 1151.42 831.5 1151.18C838.7 1150.95 844.25 1151.15 849 1151.43C853.75 1151.7 856.02 1152.15 860 1152.82C863.98 1153.48 868.58 1154.26 872.9 1155.41C877.22 1156.57 881.02 1157.72 885.9 1159.73C890.78 1161.74 897.9 1165.13 902.2 1167.47C906.5 1169.8 908.19 1170.92 911.7 1173.73C915.21 1176.53 920.06 1180.95 923.27 1184.3C926.48 1187.65 928.74 1190.5 930.96 1193.8C933.17 1197.1 934.73 1200.37 936.55 1204.1C938.38 1207.83 940.14 1212.17 941.9 1216.2C943.66 1220.23 945.71 1225 947.12 1228.3C948.54 1231.6 949.13 1232.85 950.39 1236C951.66 1239.15 953.37 1243.53 954.71 1247.2C956.05 1250.87 957.28 1254.52 958.45 1258C959.61 1261.48 960.61 1264.68 961.68 1268.1C962.75 1271.52 963.89 1275.17 964.87 1278.5C965.85 1281.83 966.7 1284.77 967.56 1288.1C968.42 1291.43 969.26 1295.17 970.04 1298.5C970.81 1301.83 971.44 1304.5 972.22 1308.1C972.99 1311.7 973.88 1316.1 974.7 1320.1C975.52 1324.1 976.31 1328.1 977.16 1332.1C978.01 1336.1 978.89 1340.1 979.8 1344.1C980.71 1348.1 981.66 1352.28 982.61 1356.1C983.56 1359.92 985.02 1365.18 985.5 1367" fill="none" stroke="#000" stroke-width="4.6" stroke-linecap="butt" stroke-linejoin="round" stroke-dasharray="241.51 2.4 16 2.4 16 2.4 16 2.4 16 2.4 16 2.4 16 2.4 16 2.4 16 2.4 16"/>
<path d="M750.6 1224.9C753.67 1224.12 763.27 1221.56 769 1220.24C774.73 1218.93 778.87 1217.89 785 1217.03C791.13 1216.16 799.93 1215.22 805.8 1215.03C811.67 1214.84 814.32 1215.01 820.2 1215.89C826.08 1216.78 834.47 1218.68 841.1 1220.36C847.73 1222.05 854.7 1224.25 860 1226.03C865.3 1227.81 868.58 1229.18 872.9 1231.05C877.22 1232.92 881.02 1234.6 885.9 1237.25C890.78 1239.9 897.9 1244.05 902.2 1246.95C906.5 1249.84 908.22 1251.35 911.7 1254.61C915.18 1257.86 919.72 1262.68 923.08 1266.5C926.44 1270.32 929.28 1274.08 931.86 1277.5C934.45 1280.92 936.44 1283.83 938.6 1287C940.76 1290.17 942.85 1293.38 944.82 1296.5C946.78 1299.62 948.62 1302.7 950.39 1305.7C952.15 1308.7 953.77 1311.7 955.39 1314.5C957.01 1317.3 958.52 1319.83 960.1 1322.5C961.68 1325.17 963.3 1327.83 964.9 1330.5C966.5 1333.17 968.08 1335.83 969.7 1338.5C971.32 1341.17 973.1 1344 974.63 1346.5C976.16 1349 977.07 1350.08 978.88 1353.5C980.69 1356.92 984.4 1364.75 985.5 1367" fill="none" stroke="#000" stroke-width="4.6" stroke-linecap="butt" stroke-linejoin="round" stroke-dasharray="236.46 2.4 16 2.4 16 2.4 16 2.4 16 2.4 16"/>
<text x="799.7" y="1080.8" font-size="19.6" text-anchor="start" font-family='"Liberation Sans", Arial, Helvetica, sans-serif' fill="#000">Ta=75<tspan font-size="11.76" stroke="#000" stroke-width="0.43" dy="-5.59" dx="1.86">˚</tspan><tspan dy="5.59" dx="0.39">C</tspan></text>
<text x="830" y="1138.8" font-size="19.6" text-anchor="start" font-family='"Liberation Sans", Arial, Helvetica, sans-serif' fill="#000">25<tspan font-size="11.76" stroke="#000" stroke-width="0.43" dy="-5.59" dx="1.86">˚</tspan><tspan dy="5.59" dx="0.39">C</tspan></text>
<text x="801.8" y="1202.5" font-size="19.6" text-anchor="start" font-family='"Liberation Sans", Arial, Helvetica, sans-serif' fill="#000">–25<tspan font-size="11.76" stroke="#000" stroke-width="0.43" dy="-5.59" dx="1.86">˚</tspan><tspan dy="5.59" dx="0.39">C</tspan></text>
<text x="1005.8" y="993.8" font-size="19.6" text-anchor="start" font-family='"Liberation Sans", Arial, Helvetica, sans-serif' fill="#000">V<tspan font-size="13" dy="5.7">CE</tspan><tspan dy="-5.7">=10V</tspan></text>
<text x="749.5" y="1473.8" font-size="19.6" text-anchor="middle" font-family='"Liberation Sans", Arial, Helvetica, sans-serif' fill="#000">0.01</text>
<text x="805.8" y="1473.8" font-size="19.6" text-anchor="middle" font-family='"Liberation Sans", Arial, Helvetica, sans-serif' fill="#000">0.03</text>
<text x="867.5" y="1473.8" font-size="19.6" text-anchor="middle" font-family='"Liberation Sans", Arial, Helvetica, sans-serif' fill="#000">0.1</text>
<text x="923.8" y="1473.8" font-size="19.6" text-anchor="middle" font-family='"Liberation Sans", Arial, Helvetica, sans-serif' fill="#000">0.3</text>
<text x="985.5" y="1473.8" font-size="19.6" text-anchor="middle" font-family='"Liberation Sans", Arial, Helvetica, sans-serif' fill="#000">1</text>
<text x="1041.8" y="1473.8" font-size="19.6" text-anchor="middle" font-family='"Liberation Sans", Arial, Helvetica, sans-serif' fill="#000">3</text>
<text x="1103.5" y="1473.8" font-size="19.6" text-anchor="middle" font-family='"Liberation Sans", Arial, Helvetica, sans-serif' fill="#000">10</text>
<text x="742" y="1453.7" font-size="19.6" text-anchor="end" font-family='"Liberation Sans", Arial, Helvetica, sans-serif' fill="#000">0</text>
<text x="742" y="1373.7" font-size="19.6" text-anchor="end" font-family='"Liberation Sans", Arial, Helvetica, sans-serif' fill="#000">50</text>
<text x="742" y="1293.7" font-size="19.6" text-anchor="end" font-family='"Liberation Sans", Arial, Helvetica, sans-serif' fill="#000">100</text>
<text x="742" y="1213.7" font-size="19.6" text-anchor="end" font-family='"Liberation Sans", Arial, Helvetica, sans-serif' fill="#000">150</text>
<text x="742" y="1133.7" font-size="19.6" text-anchor="end" font-family='"Liberation Sans", Arial, Helvetica, sans-serif' fill="#000">200</text>
<text x="742" y="1053.7" font-size="19.6" text-anchor="end" font-family='"Liberation Sans", Arial, Helvetica, sans-serif' fill="#000">250</text>
<text x="742" y="973.7" font-size="19.6" text-anchor="end" font-family='"Liberation Sans", Arial, Helvetica, sans-serif' fill="#000">300</text>
<text x="915.5" y="920.5" font-size="31.6" text-anchor="middle" font-family='"Liberation Serif", "Times New Roman", Times, serif' fill="#000" stroke="#000" stroke-width="0.25">h<tspan font-size="22" dy="5.8">FE</tspan><tspan dy="-5.8"> </tspan><tspan stroke="#000" stroke-width="0.7" dy="1.1">—</tspan><tspan dy="-1.1"> I</tspan><tspan font-size="22" dy="5.8">C</tspan></text>
<text x="926.5" y="1511" font-size="24.35" text-anchor="middle" font-family='"Liberation Sans", Arial, Helvetica, sans-serif' fill="#000">Collector current   I<tspan font-size="16.5" dy="6.5">C</tspan><tspan dy="-6.5">   (A)</tspan></text>
<text x="0" y="0" font-size="24.35" text-anchor="middle" font-family='"Liberation Sans", Arial, Helvetica, sans-serif' fill="#000" transform="translate(690.1 1207.5) rotate(-90)">Forward current transfer ratio   h<tspan font-size="16.5" dy="6.5">FE</tspan></text>
<g shape-rendering="crispEdges">
<line x1="1291.5" y1="967.5" x2="1291.5" y2="1447.5" stroke="#000" stroke-width="1"/>
<line x1="1312.5" y1="967.5" x2="1312.5" y2="1447.5" stroke="#000" stroke-width="1"/>
<line x1="1326.5" y1="967.5" x2="1326.5" y2="1447.5" stroke="#000" stroke-width="1"/>
<line x1="1338.5" y1="967.5" x2="1338.5" y2="1447.5" stroke="#000" stroke-width="1"/>
<line x1="1347.5" y1="967.5" x2="1347.5" y2="1447.5" stroke="#000" stroke-width="1"/>
<line x1="1355.5" y1="967.5" x2="1355.5" y2="1447.5" stroke="#000" stroke-width="1"/>
<line x1="1362.5" y1="967.5" x2="1362.5" y2="1447.5" stroke="#000" stroke-width="1"/>
<line x1="1368.5" y1="967.5" x2="1368.5" y2="1447.5" stroke="#000" stroke-width="1"/>
<line x1="1374.5" y1="967.5" x2="1374.5" y2="1447.5" stroke="#000" stroke-width="1"/>
<line x1="1409.5" y1="967.5" x2="1409.5" y2="1447.5" stroke="#000" stroke-width="1"/>
<line x1="1430.5" y1="967.5" x2="1430.5" y2="1447.5" stroke="#000" stroke-width="1"/>
<line x1="1445.5" y1="967.5" x2="1445.5" y2="1447.5" stroke="#000" stroke-width="1"/>
<line x1="1456.5" y1="967.5" x2="1456.5" y2="1447.5" stroke="#000" stroke-width="1"/>
<line x1="1465.5" y1="967.5" x2="1465.5" y2="1447.5" stroke="#000" stroke-width="1"/>
<line x1="1473.5" y1="967.5" x2="1473.5" y2="1447.5" stroke="#000" stroke-width="1"/>
<line x1="1480.5" y1="967.5" x2="1480.5" y2="1447.5" stroke="#000" stroke-width="1"/>
<line x1="1486.5" y1="967.5" x2="1486.5" y2="1447.5" stroke="#000" stroke-width="1"/>
<line x1="1492.5" y1="967.5" x2="1492.5" y2="1447.5" stroke="#000" stroke-width="1"/>
<line x1="1527.5" y1="967.5" x2="1527.5" y2="1447.5" stroke="#000" stroke-width="1"/>
<line x1="1548.5" y1="967.5" x2="1548.5" y2="1447.5" stroke="#000" stroke-width="1"/>
<line x1="1563.5" y1="967.5" x2="1563.5" y2="1447.5" stroke="#000" stroke-width="1"/>
<line x1="1574.5" y1="967.5" x2="1574.5" y2="1447.5" stroke="#000" stroke-width="1"/>
<line x1="1584.5" y1="967.5" x2="1584.5" y2="1447.5" stroke="#000" stroke-width="1"/>
<line x1="1592.5" y1="967.5" x2="1592.5" y2="1447.5" stroke="#000" stroke-width="1"/>
<line x1="1598.5" y1="967.5" x2="1598.5" y2="1447.5" stroke="#000" stroke-width="1"/>
<line x1="1604.5" y1="967.5" x2="1604.5" y2="1447.5" stroke="#000" stroke-width="1"/>
<line x1="1256.5" y1="1387.5" x2="1610.5" y2="1387.5" stroke="#000" stroke-width="1"/>
<line x1="1256.5" y1="1327.5" x2="1610.5" y2="1327.5" stroke="#000" stroke-width="1"/>
<line x1="1256.5" y1="1267.5" x2="1610.5" y2="1267.5" stroke="#000" stroke-width="1"/>
<line x1="1256.5" y1="1207.5" x2="1610.5" y2="1207.5" stroke="#000" stroke-width="1"/>
<line x1="1256.5" y1="1147.5" x2="1610.5" y2="1147.5" stroke="#000" stroke-width="1"/>
<line x1="1256.5" y1="1087.5" x2="1610.5" y2="1087.5" stroke="#000" stroke-width="1"/>
<line x1="1256.5" y1="1027.5" x2="1610.5" y2="1027.5" stroke="#000" stroke-width="1"/>
<rect x="1493.5" y="969" width="115.5" height="58" fill="#fff"/>
<rect x="1256.5" y="967.5" width="354" height="480" fill="none" stroke="#000" stroke-width="3"/>
</g>
<path d="M1369.3 1369.7C1371.22 1367.95 1376.48 1363.1 1380.8 1359.21C1385.12 1355.31 1390.4 1350.71 1395.2 1346.32C1400 1341.94 1403.87 1338.54 1409.6 1332.9C1415.33 1327.27 1423.66 1318.83 1429.57 1312.5C1435.47 1306.17 1440.72 1300.1 1445.05 1294.9C1449.38 1289.7 1452.17 1285.97 1455.57 1281.3C1458.98 1276.63 1462.44 1271.43 1465.49 1266.9C1468.54 1262.37 1471.14 1258.23 1473.85 1254.1C1476.57 1249.97 1478.67 1246.77 1481.77 1242.1C1484.87 1237.43 1489.27 1230.9 1492.44 1226.1C1495.6 1221.3 1498.26 1217.18 1500.76 1213.3C1503.27 1209.42 1505.3 1206.15 1507.47 1202.8C1509.64 1199.45 1511.59 1196.4 1513.78 1193.2C1515.97 1190 1518.26 1186.67 1520.61 1183.6C1522.97 1180.53 1525.32 1177.64 1527.9 1174.8C1530.48 1171.96 1532.87 1169.42 1536.1 1166.55C1539.33 1163.68 1543.57 1160.1 1547.3 1157.6C1551.03 1155.09 1555.3 1152.93 1558.5 1151.51C1561.7 1150.08 1563.83 1149.57 1566.5 1149.05C1569.17 1148.53 1571.57 1148.29 1574.5 1148.4C1577.43 1148.51 1581.3 1149.03 1584.1 1149.73C1586.9 1150.42 1588.62 1151.17 1591.3 1152.56C1593.98 1153.96 1597.08 1156.03 1600.2 1158.1C1603.32 1160.17 1608.37 1163.85 1610 1165" fill="none" stroke="#000" stroke-width="4.5" stroke-linecap="butt" stroke-linejoin="round"/>
<text x="1512.9" y="992.9" font-size="19.6" text-anchor="start" font-family='"Liberation Sans", Arial, Helvetica, sans-serif' fill="#000">V<tspan font-size="13" dy="5.7">CB</tspan><tspan dy="-5.7">=10V</tspan></text>
<text x="1511.7" y="1015.9" font-size="19.6" text-anchor="start" font-family='"Liberation Sans", Arial, Helvetica, sans-serif' fill="#000">Ta=25<tspan font-size="11.76" stroke="#000" stroke-width="0.43" dy="-5.59" dx="1.86">˚</tspan><tspan dy="5.59" dx="0.39">C</tspan></text>
<text x="1256.5" y="1473.8" font-size="19.6" text-anchor="middle" font-family='"Liberation Sans", Arial, Helvetica, sans-serif' fill="#000">– 0.1</text>
<text x="1312.8" y="1473.8" font-size="19.6" text-anchor="middle" font-family='"Liberation Sans", Arial, Helvetica, sans-serif' fill="#000">– 0.3</text>
<text x="1374.5" y="1473.8" font-size="19.6" text-anchor="middle" font-family='"Liberation Sans", Arial, Helvetica, sans-serif' fill="#000">–1</text>
<text x="1430.8" y="1473.8" font-size="19.6" text-anchor="middle" font-family='"Liberation Sans", Arial, Helvetica, sans-serif' fill="#000">–3</text>
<text x="1492.5" y="1473.8" font-size="19.6" text-anchor="middle" font-family='"Liberation Sans", Arial, Helvetica, sans-serif' fill="#000">–10</text>
<text x="1548.8" y="1473.8" font-size="19.6" text-anchor="middle" font-family='"Liberation Sans", Arial, Helvetica, sans-serif' fill="#000">–30</text>
<text x="1610.5" y="1473.8" font-size="19.6" text-anchor="middle" font-family='"Liberation Sans", Arial, Helvetica, sans-serif' fill="#000">–100</text>
<text x="1249" y="1453.7" font-size="19.6" text-anchor="end" font-family='"Liberation Sans", Arial, Helvetica, sans-serif' fill="#000">0</text>
<text x="1249" y="1393.7" font-size="19.6" text-anchor="end" font-family='"Liberation Sans", Arial, Helvetica, sans-serif' fill="#000">20</text>
<text x="1249" y="1333.7" font-size="19.6" text-anchor="end" font-family='"Liberation Sans", Arial, Helvetica, sans-serif' fill="#000">40</text>
<text x="1249" y="1273.7" font-size="19.6" text-anchor="end" font-family='"Liberation Sans", Arial, Helvetica, sans-serif' fill="#000">60</text>
<text x="1249" y="1213.7" font-size="19.6" text-anchor="end" font-family='"Liberation Sans", Arial, Helvetica, sans-serif' fill="#000">80</text>
<text x="1249" y="1153.7" font-size="19.6" text-anchor="end" font-family='"Liberation Sans", Arial, Helvetica, sans-serif' fill="#000">100</text>
<text x="1249" y="1093.7" font-size="19.6" text-anchor="end" font-family='"Liberation Sans", Arial, Helvetica, sans-serif' fill="#000">120</text>
<text x="1249" y="1033.7" font-size="19.6" text-anchor="end" font-family='"Liberation Sans", Arial, Helvetica, sans-serif' fill="#000">140</text>
<text x="1249" y="973.7" font-size="19.6" text-anchor="end" font-family='"Liberation Sans", Arial, Helvetica, sans-serif' fill="#000">160</text>
<text x="1418" y="920.5" font-size="31.6" text-anchor="middle" font-family='"Liberation Serif", "Times New Roman", Times, serif' fill="#000" stroke="#000" stroke-width="0.25">f<tspan font-size="22" dy="5.8">T</tspan><tspan dy="-5.8"> </tspan><tspan stroke="#000" stroke-width="0.7" dy="1.1">—</tspan><tspan dy="-1.1"> I</tspan><tspan font-size="22" dy="5.8">E</tspan></text>
<text x="1433.5" y="1511" font-size="24.35" text-anchor="middle" font-family='"Liberation Sans", Arial, Helvetica, sans-serif' fill="#000">Emitter current   I<tspan font-size="16.5" dy="6.5">E</tspan><tspan dy="-6.5">   (mA)</tspan></text>
<text x="0" y="0" font-size="24.35" text-anchor="middle" font-family='"Liberation Sans", Arial, Helvetica, sans-serif' fill="#000" transform="translate(1197.1 1207.5) rotate(-90)">Transition frequency   f<tspan font-size="16.5" dy="6.5">T</tspan><tspan dy="-6.5">   (MHz)</tspan></text>
<g shape-rendering="crispEdges">
<line x1="290.5" y1="1656.5" x2="290.5" y2="2136.5" stroke="#000" stroke-width="1"/>
<line x1="321.5" y1="1656.5" x2="321.5" y2="2136.5" stroke="#000" stroke-width="1"/>
<line x1="343.5" y1="1656.5" x2="343.5" y2="2136.5" stroke="#000" stroke-width="1"/>
<line x1="361.5" y1="1656.5" x2="361.5" y2="2136.5" stroke="#000" stroke-width="1"/>
<line x1="375.5" y1="1656.5" x2="375.5" y2="2136.5" stroke="#000" stroke-width="1"/>
<line x1="387.5" y1="1656.5" x2="387.5" y2="2136.5" stroke="#000" stroke-width="1"/>
<line x1="397.5" y1="1656.5" x2="397.5" y2="2136.5" stroke="#000" stroke-width="1"/>
<line x1="406.5" y1="1656.5" x2="406.5" y2="2136.5" stroke="#000" stroke-width="1"/>
<line x1="414.5" y1="1656.5" x2="414.5" y2="2136.5" stroke="#000" stroke-width="1"/>
<line x1="467.5" y1="1656.5" x2="467.5" y2="2136.5" stroke="#000" stroke-width="1"/>
<line x1="499.5" y1="1656.5" x2="499.5" y2="2136.5" stroke="#000" stroke-width="1"/>
<line x1="521.5" y1="1656.5" x2="521.5" y2="2136.5" stroke="#000" stroke-width="1"/>
<line x1="538.5" y1="1656.5" x2="538.5" y2="2136.5" stroke="#000" stroke-width="1"/>
<line x1="552.5" y1="1656.5" x2="552.5" y2="2136.5" stroke="#000" stroke-width="1"/>
<line x1="564.5" y1="1656.5" x2="564.5" y2="2136.5" stroke="#000" stroke-width="1"/>
<line x1="574.5" y1="1656.5" x2="574.5" y2="2136.5" stroke="#000" stroke-width="1"/>
<line x1="583.5" y1="1656.5" x2="583.5" y2="2136.5" stroke="#000" stroke-width="1"/>
<line x1="237.5" y1="2088.5" x2="591.5" y2="2088.5" stroke="#000" stroke-width="1"/>
<line x1="237.5" y1="2040.5" x2="591.5" y2="2040.5" stroke="#000" stroke-width="1"/>
<line x1="237.5" y1="1992.5" x2="591.5" y2="1992.5" stroke="#000" stroke-width="1"/>
<line x1="237.5" y1="1944.5" x2="591.5" y2="1944.5" stroke="#000" stroke-width="1"/>
<line x1="237.5" y1="1896.5" x2="591.5" y2="1896.5" stroke="#000" stroke-width="1"/>
<line x1="237.5" y1="1848.5" x2="591.5" y2="1848.5" stroke="#000" stroke-width="1"/>
<line x1="237.5" y1="1800.5" x2="591.5" y2="1800.5" stroke="#000" stroke-width="1"/>
<line x1="237.5" y1="1752.5" x2="591.5" y2="1752.5" stroke="#000" stroke-width="1"/>
<line x1="237.5" y1="1704.5" x2="591.5" y2="1704.5" stroke="#000" stroke-width="1"/>
<rect x="499.5" y="1658" width="90.5" height="94" fill="#fff"/>
<rect x="237.5" y="1656.5" width="354" height="480" fill="none" stroke="#000" stroke-width="3"/>
</g>
<path d="M321.6 1694.7C323.33 1697.32 328.32 1704.85 331.97 1710.4C335.62 1715.95 338.65 1720.53 343.49 1728C348.32 1735.47 355.73 1746.92 360.97 1755.2C366.21 1763.48 370.72 1771.02 374.93 1777.7C379.13 1784.38 382.63 1789.92 386.18 1795.3C389.74 1800.68 393.09 1805.47 396.27 1810C399.45 1814.53 402.43 1818.63 405.26 1822.5C408.1 1826.37 409.67 1828.53 413.3 1833.2C416.93 1837.87 422.01 1844.42 427.05 1850.5C432.09 1856.58 436.82 1862.23 443.55 1869.7C450.27 1877.17 460.64 1888.24 467.39 1895.3C474.15 1902.36 478.92 1906.99 484.1 1912.05C489.28 1917.1 492.23 1919.94 498.5 1925.63C504.77 1931.32 515.02 1940.46 521.7 1946.17C528.38 1951.88 535.78 1957.61 538.6 1959.9" fill="none" stroke="#000" stroke-width="4.5" stroke-linecap="butt" stroke-linejoin="round"/>
<text x="507.2" y="1688" font-size="19.6" text-anchor="start" font-family='"Liberation Sans", Arial, Helvetica, sans-serif' fill="#000">I<tspan font-size="13" dy="5.7">E</tspan><tspan dy="-5.7">=0</tspan></text>
<text x="507" y="1710.9" font-size="19.6" text-anchor="start" font-family='"Liberation Sans", Arial, Helvetica, sans-serif' fill="#000">f=1MHz</text>
<text x="506.8" y="1734.9" font-size="19.6" text-anchor="start" font-family='"Liberation Sans", Arial, Helvetica, sans-serif' fill="#000">Ta=25<tspan font-size="11.76" stroke="#000" stroke-width="0.43" dy="-5.59" dx="1.86">˚</tspan><tspan dy="5.59" dx="0.39">C</tspan></text>
<text x="237.5" y="2161.5" font-size="19.6" text-anchor="middle" font-family='"Liberation Sans", Arial, Helvetica, sans-serif' fill="#000">1</text>
<text x="321.95" y="2161.5" font-size="19.6" text-anchor="middle" font-family='"Liberation Sans", Arial, Helvetica, sans-serif' fill="#000">3</text>
<text x="414.5" y="2161.5" font-size="19.6" text-anchor="middle" font-family='"Liberation Sans", Arial, Helvetica, sans-serif' fill="#000">10</text>
<text x="498.95" y="2161.5" font-size="19.6" text-anchor="middle" font-family='"Liberation Sans", Arial, Helvetica, sans-serif' fill="#000">30</text>
<text x="591.5" y="2161.5" font-size="19.6" text-anchor="middle" font-family='"Liberation Sans", Arial, Helvetica, sans-serif' fill="#000">100</text>
<text x="230" y="2142.7" font-size="19.6" text-anchor="end" font-family='"Liberation Sans", Arial, Helvetica, sans-serif' fill="#000">0</text>
<text x="230" y="2046.7" font-size="19.6" text-anchor="end" font-family='"Liberation Sans", Arial, Helvetica, sans-serif' fill="#000">2</text>
<text x="230" y="1950.7" font-size="19.6" text-anchor="end" font-family='"Liberation Sans", Arial, Helvetica, sans-serif' fill="#000">4</text>
<text x="230" y="1854.7" font-size="19.6" text-anchor="end" font-family='"Liberation Sans", Arial, Helvetica, sans-serif' fill="#000">6</text>
<text x="230" y="1758.7" font-size="19.6" text-anchor="end" font-family='"Liberation Sans", Arial, Helvetica, sans-serif' fill="#000">8</text>
<text x="230" y="1662.7" font-size="19.6" text-anchor="end" font-family='"Liberation Sans", Arial, Helvetica, sans-serif' fill="#000">10</text>
<text x="414" y="1611.5" font-size="31.6" text-anchor="middle" font-family='"Liberation Serif", "Times New Roman", Times, serif' fill="#000" stroke="#000" stroke-width="0.25">C<tspan font-size="22" dy="5.8">ob</tspan><tspan dy="-5.8"> </tspan><tspan stroke="#000" stroke-width="0.7" dy="1.1">—</tspan><tspan dy="-1.1"> V</tspan><tspan font-size="22" dy="5.8" dx="-1.8">CB</tspan></text>
<text x="414.5" y="2199.7" font-size="24.35" text-anchor="middle" font-family='"Liberation Sans", Arial, Helvetica, sans-serif' fill="#000">Collector to base voltage   V<tspan font-size="16.5" dy="6.5">CB</tspan><tspan dy="-6.5">   (V)</tspan></text>
<text x="0" y="0" font-size="24.35" text-anchor="middle" font-family='"Liberation Sans", Arial, Helvetica, sans-serif' fill="#000" transform="translate(178.1 1896.5) rotate(-90)">Collector output capacitance   C<tspan font-size="16.5" dy="6.5">ob</tspan><tspan dy="-6.5">   (pF)</tspan></text>
</svg>
</body></html>
